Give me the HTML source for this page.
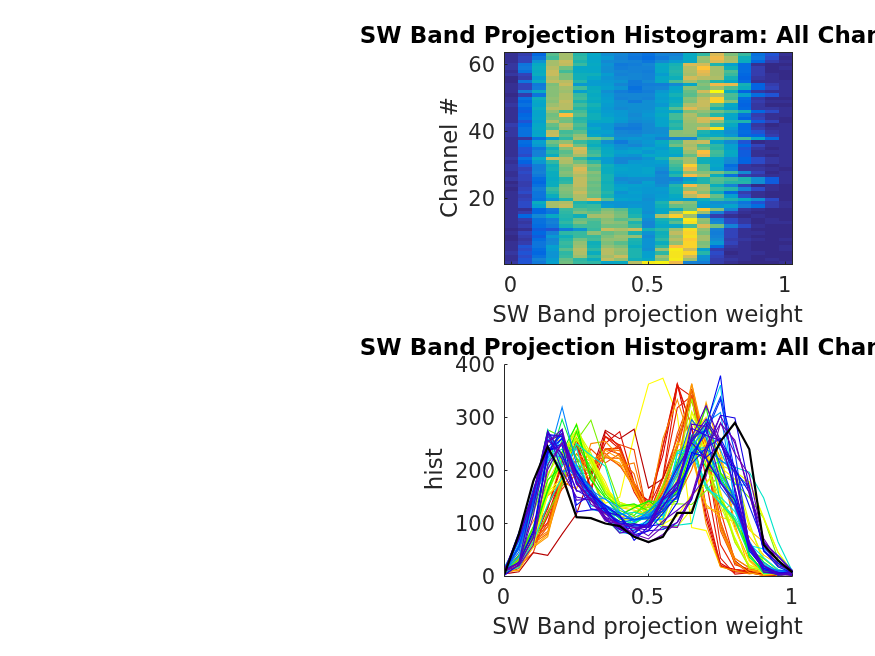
<!DOCTYPE html>
<html lang="en"><head><meta charset="utf-8"><title>SW Band Projection Histogram</title>
<style>html,body{margin:0;padding:0;background:#fff;overflow:hidden}svg{display:block}text{font-family:"DejaVu Sans","Liberation Sans",sans-serif;fill:#262626}.t{font-size:21px}.l{font-size:23px}.ti{font-size:23px;font-weight:bold;fill:#000}</style></head><body>
<svg width="875" height="656" viewBox="0 0 875 656">
<rect width="875" height="656" fill="#fff"/>
<g shape-rendering="crispEdges">
<rect x="504.50" y="261.13" width="14.01" height="3.67" fill="#3637a0"/>
<rect x="518.21" y="261.13" width="14.01" height="3.67" fill="#2053d4"/>
<rect x="531.93" y="261.13" width="14.01" height="3.67" fill="#1079da"/>
<rect x="545.64" y="261.13" width="14.01" height="3.67" fill="#06a0cd"/>
<rect x="559.36" y="261.13" width="14.01" height="3.67" fill="#71bf80"/>
<rect x="573.07" y="261.13" width="14.01" height="3.67" fill="#38b99e"/>
<rect x="586.79" y="261.13" width="14.01" height="3.67" fill="#2eb7a4"/>
<rect x="600.50" y="261.13" width="14.01" height="3.67" fill="#06a4ca"/>
<rect x="614.21" y="261.13" width="14.01" height="3.67" fill="#07a9c2"/>
<rect x="627.93" y="261.13" width="14.01" height="3.67" fill="#b7bd64"/>
<rect x="641.64" y="261.13" width="14.01" height="3.67" fill="#f5eb18"/>
<rect x="655.36" y="261.13" width="14.01" height="3.67" fill="#f6f313"/>
<rect x="669.07" y="261.13" width="14.01" height="3.67" fill="#f1b94a"/>
<rect x="682.79" y="261.13" width="14.01" height="3.67" fill="#1481d6"/>
<rect x="696.50" y="261.13" width="14.01" height="3.67" fill="#127dd8"/>
<rect x="710.21" y="261.13" width="14.01" height="3.67" fill="#353dad"/>
<rect x="723.93" y="261.13" width="14.01" height="3.67" fill="#363093"/>
<rect x="737.64" y="261.13" width="41.44" height="3.67" fill="#352a87"/>
<rect x="778.79" y="261.13" width="14.01" height="3.67" fill="#363093"/>
<rect x="504.50" y="257.77" width="14.01" height="3.67" fill="#363093"/>
<rect x="518.21" y="257.77" width="14.01" height="3.67" fill="#2053d4"/>
<rect x="531.93" y="257.77" width="14.01" height="3.67" fill="#1481d6"/>
<rect x="545.64" y="257.77" width="14.01" height="3.67" fill="#079ccf"/>
<rect x="559.36" y="257.77" width="14.01" height="3.67" fill="#65be86"/>
<rect x="573.07" y="257.77" width="14.01" height="3.67" fill="#2eb7a4"/>
<rect x="586.79" y="257.77" width="14.01" height="3.67" fill="#0aacbe"/>
<rect x="600.50" y="257.77" width="14.01" height="3.67" fill="#c0bc60"/>
<rect x="614.21" y="257.77" width="14.01" height="3.67" fill="#92bf73"/>
<rect x="627.93" y="257.77" width="14.01" height="3.67" fill="#0faeb9"/>
<rect x="641.64" y="257.77" width="14.01" height="3.67" fill="#06a7c6"/>
<rect x="655.36" y="257.77" width="14.01" height="3.67" fill="#7cbf7b"/>
<rect x="669.07" y="257.77" width="14.01" height="3.67" fill="#f5eb18"/>
<rect x="682.79" y="257.77" width="14.01" height="3.67" fill="#9cbf6f"/>
<rect x="696.50" y="257.77" width="14.01" height="3.67" fill="#108ed2"/>
<rect x="710.21" y="257.77" width="14.01" height="3.67" fill="#353dad"/>
<rect x="723.93" y="257.77" width="14.01" height="3.67" fill="#3637a0"/>
<rect x="737.64" y="257.77" width="14.01" height="3.67" fill="#363093"/>
<rect x="751.36" y="257.77" width="14.01" height="3.67" fill="#352a87"/>
<rect x="765.07" y="257.77" width="14.01" height="3.67" fill="#363093"/>
<rect x="778.79" y="257.77" width="14.01" height="3.67" fill="#352a87"/>
<rect x="504.50" y="254.40" width="14.01" height="3.67" fill="#363093"/>
<rect x="518.21" y="254.40" width="14.01" height="3.67" fill="#2c4ac7"/>
<rect x="531.93" y="254.40" width="14.01" height="3.67" fill="#0871de"/>
<rect x="545.64" y="254.40" width="14.01" height="3.67" fill="#0c93d2"/>
<rect x="559.36" y="254.40" width="14.01" height="3.67" fill="#38b99e"/>
<rect x="573.07" y="254.40" width="14.01" height="3.67" fill="#9cbf6f"/>
<rect x="586.79" y="254.40" width="14.01" height="3.67" fill="#2eb7a4"/>
<rect x="600.50" y="254.40" width="14.01" height="3.67" fill="#a5be6b"/>
<rect x="614.21" y="254.40" width="14.01" height="3.67" fill="#c8bc5d"/>
<rect x="627.93" y="254.40" width="14.01" height="3.67" fill="#1db3af"/>
<rect x="641.64" y="254.40" width="14.01" height="3.67" fill="#06a0cd"/>
<rect x="655.36" y="254.40" width="14.01" height="3.67" fill="#9cbf6f"/>
<rect x="669.07" y="254.40" width="14.01" height="3.67" fill="#f5e41d"/>
<rect x="682.79" y="254.40" width="14.01" height="3.67" fill="#d1bb59"/>
<rect x="696.50" y="254.40" width="14.01" height="3.67" fill="#0c93d2"/>
<rect x="710.21" y="254.40" width="14.01" height="3.67" fill="#3243ba"/>
<rect x="723.93" y="254.40" width="27.73" height="3.67" fill="#363093"/>
<rect x="751.36" y="254.40" width="41.44" height="3.67" fill="#352a87"/>
<rect x="504.50" y="251.04" width="14.01" height="3.67" fill="#3637a0"/>
<rect x="518.21" y="251.04" width="14.01" height="3.67" fill="#2053d4"/>
<rect x="531.93" y="251.04" width="14.01" height="3.67" fill="#0268e1"/>
<rect x="545.64" y="251.04" width="14.01" height="3.67" fill="#0c93d2"/>
<rect x="559.36" y="251.04" width="14.01" height="3.67" fill="#2eb7a4"/>
<rect x="573.07" y="251.04" width="14.01" height="3.67" fill="#aebe67"/>
<rect x="586.79" y="251.04" width="14.01" height="3.67" fill="#0aacbe"/>
<rect x="600.50" y="251.04" width="14.01" height="3.67" fill="#b7bd64"/>
<rect x="614.21" y="251.04" width="14.01" height="3.67" fill="#92bf73"/>
<rect x="627.93" y="251.04" width="14.01" height="3.67" fill="#1db3af"/>
<rect x="641.64" y="251.04" width="14.01" height="3.67" fill="#06a0cd"/>
<rect x="655.36" y="251.04" width="14.01" height="3.67" fill="#2eb7a4"/>
<rect x="669.07" y="251.04" width="14.01" height="3.67" fill="#f5e41d"/>
<rect x="682.79" y="251.04" width="14.01" height="3.67" fill="#fad32a"/>
<rect x="696.50" y="251.04" width="14.01" height="3.67" fill="#25b5a9"/>
<rect x="710.21" y="251.04" width="14.01" height="3.67" fill="#2c4ac7"/>
<rect x="723.93" y="251.04" width="14.01" height="3.67" fill="#352a87"/>
<rect x="737.64" y="251.04" width="27.73" height="3.67" fill="#363093"/>
<rect x="765.07" y="251.04" width="27.73" height="3.67" fill="#352a87"/>
<rect x="504.50" y="247.67" width="14.01" height="3.67" fill="#363093"/>
<rect x="518.21" y="247.67" width="14.01" height="3.67" fill="#2c4ac7"/>
<rect x="531.93" y="247.67" width="14.01" height="3.67" fill="#046de0"/>
<rect x="545.64" y="247.67" width="14.01" height="3.67" fill="#079ccf"/>
<rect x="559.36" y="247.67" width="14.01" height="3.67" fill="#59bd8c"/>
<rect x="573.07" y="247.67" width="14.01" height="3.67" fill="#b7bd64"/>
<rect x="586.79" y="247.67" width="14.01" height="3.67" fill="#2eb7a4"/>
<rect x="600.50" y="247.67" width="14.01" height="3.67" fill="#b7bd64"/>
<rect x="614.21" y="247.67" width="14.01" height="3.67" fill="#9cbf6f"/>
<rect x="627.93" y="247.67" width="14.01" height="3.67" fill="#1db3af"/>
<rect x="641.64" y="247.67" width="14.01" height="3.67" fill="#108ed2"/>
<rect x="655.36" y="247.67" width="14.01" height="3.67" fill="#9cbf6f"/>
<rect x="669.07" y="247.67" width="14.01" height="3.67" fill="#f5eb18"/>
<rect x="682.79" y="247.67" width="14.01" height="3.67" fill="#d1bb59"/>
<rect x="696.50" y="247.67" width="14.01" height="3.67" fill="#06a0cd"/>
<rect x="710.21" y="247.67" width="14.01" height="3.67" fill="#353dad"/>
<rect x="723.93" y="247.67" width="27.73" height="3.67" fill="#363093"/>
<rect x="751.36" y="247.67" width="27.73" height="3.67" fill="#352a87"/>
<rect x="778.79" y="247.67" width="14.01" height="3.67" fill="#363093"/>
<rect x="504.50" y="244.31" width="14.01" height="3.67" fill="#363093"/>
<rect x="518.21" y="244.31" width="14.01" height="3.67" fill="#2053d4"/>
<rect x="531.93" y="244.31" width="14.01" height="3.67" fill="#0d75dc"/>
<rect x="545.64" y="244.31" width="14.01" height="3.67" fill="#06a0cd"/>
<rect x="559.36" y="244.31" width="14.01" height="3.67" fill="#2eb7a4"/>
<rect x="573.07" y="244.31" width="14.01" height="3.67" fill="#9cbf6f"/>
<rect x="586.79" y="244.31" width="14.01" height="3.67" fill="#15b1b4"/>
<rect x="600.50" y="244.31" width="14.01" height="3.67" fill="#92bf73"/>
<rect x="614.21" y="244.31" width="14.01" height="3.67" fill="#7cbf7b"/>
<rect x="627.93" y="244.31" width="14.01" height="3.67" fill="#0aacbe"/>
<rect x="641.64" y="244.31" width="14.01" height="3.67" fill="#0c93d2"/>
<rect x="655.36" y="244.31" width="14.01" height="3.67" fill="#2eb7a4"/>
<rect x="669.07" y="244.31" width="14.01" height="3.67" fill="#fdbe3d"/>
<rect x="682.79" y="244.31" width="14.01" height="3.67" fill="#fad32a"/>
<rect x="696.50" y="244.31" width="14.01" height="3.67" fill="#87bf77"/>
<rect x="710.21" y="244.31" width="14.01" height="3.67" fill="#046de0"/>
<rect x="723.93" y="244.31" width="14.01" height="3.67" fill="#3637a0"/>
<rect x="737.64" y="244.31" width="14.01" height="3.67" fill="#363093"/>
<rect x="751.36" y="244.31" width="27.73" height="3.67" fill="#352a87"/>
<rect x="778.79" y="244.31" width="14.01" height="3.67" fill="#363093"/>
<rect x="504.50" y="240.94" width="14.01" height="3.67" fill="#363093"/>
<rect x="518.21" y="240.94" width="14.01" height="3.67" fill="#353dad"/>
<rect x="531.93" y="240.94" width="14.01" height="3.67" fill="#0d75dc"/>
<rect x="545.64" y="240.94" width="14.01" height="3.67" fill="#1389d3"/>
<rect x="559.36" y="240.94" width="14.01" height="3.67" fill="#38b99e"/>
<rect x="573.07" y="240.94" width="14.01" height="3.67" fill="#92bf73"/>
<rect x="586.79" y="240.94" width="14.01" height="3.67" fill="#0faeb9"/>
<rect x="600.50" y="240.94" width="14.01" height="3.67" fill="#7cbf7b"/>
<rect x="614.21" y="240.94" width="14.01" height="3.67" fill="#59bd8c"/>
<rect x="627.93" y="240.94" width="14.01" height="3.67" fill="#15b1b4"/>
<rect x="641.64" y="240.94" width="14.01" height="3.67" fill="#0c93d2"/>
<rect x="655.36" y="240.94" width="14.01" height="3.67" fill="#0aacbe"/>
<rect x="669.07" y="240.94" width="14.01" height="3.67" fill="#92bf73"/>
<rect x="682.79" y="240.94" width="14.01" height="3.67" fill="#fad32a"/>
<rect x="696.50" y="240.94" width="14.01" height="3.67" fill="#7cbf7b"/>
<rect x="710.21" y="240.94" width="14.01" height="3.67" fill="#0998d1"/>
<rect x="723.93" y="240.94" width="14.01" height="3.67" fill="#3243ba"/>
<rect x="737.64" y="240.94" width="14.01" height="3.67" fill="#363093"/>
<rect x="751.36" y="240.94" width="41.44" height="3.67" fill="#352a87"/>
<rect x="504.50" y="237.58" width="14.01" height="3.67" fill="#352a87"/>
<rect x="518.21" y="237.58" width="14.01" height="3.67" fill="#3637a0"/>
<rect x="531.93" y="237.58" width="14.01" height="3.67" fill="#046de0"/>
<rect x="545.64" y="237.58" width="14.01" height="3.67" fill="#1485d4"/>
<rect x="559.36" y="237.58" width="14.01" height="3.67" fill="#25b5a9"/>
<rect x="573.07" y="237.58" width="14.01" height="3.67" fill="#71bf80"/>
<rect x="586.79" y="237.58" width="14.01" height="3.67" fill="#42bb98"/>
<rect x="600.50" y="237.58" width="27.73" height="3.67" fill="#92bf73"/>
<rect x="627.93" y="237.58" width="14.01" height="3.67" fill="#1db3af"/>
<rect x="641.64" y="237.58" width="14.01" height="3.67" fill="#0c93d2"/>
<rect x="655.36" y="237.58" width="14.01" height="3.67" fill="#2eb7a4"/>
<rect x="669.07" y="237.58" width="14.01" height="3.67" fill="#b7bd64"/>
<rect x="682.79" y="237.58" width="14.01" height="3.67" fill="#fec832"/>
<rect x="696.50" y="237.58" width="14.01" height="3.67" fill="#a5be6b"/>
<rect x="710.21" y="237.58" width="14.01" height="3.67" fill="#1389d3"/>
<rect x="723.93" y="237.58" width="14.01" height="3.67" fill="#353dad"/>
<rect x="737.64" y="237.58" width="14.01" height="3.67" fill="#3637a0"/>
<rect x="751.36" y="237.58" width="14.01" height="3.67" fill="#363093"/>
<rect x="765.07" y="237.58" width="14.01" height="3.67" fill="#352a87"/>
<rect x="778.79" y="237.58" width="14.01" height="3.67" fill="#363093"/>
<rect x="504.50" y="234.21" width="14.01" height="3.67" fill="#352a87"/>
<rect x="518.21" y="234.21" width="14.01" height="3.67" fill="#353dad"/>
<rect x="531.93" y="234.21" width="14.01" height="3.67" fill="#0f5cdd"/>
<rect x="545.64" y="234.21" width="14.01" height="3.67" fill="#0998d1"/>
<rect x="559.36" y="234.21" width="14.01" height="3.67" fill="#0faeb9"/>
<rect x="573.07" y="234.21" width="27.73" height="3.67" fill="#38b99e"/>
<rect x="600.50" y="234.21" width="14.01" height="3.67" fill="#7cbf7b"/>
<rect x="614.21" y="234.21" width="14.01" height="3.67" fill="#9cbf6f"/>
<rect x="627.93" y="234.21" width="14.01" height="3.67" fill="#92bf73"/>
<rect x="641.64" y="234.21" width="14.01" height="3.67" fill="#1389d3"/>
<rect x="655.36" y="234.21" width="14.01" height="3.67" fill="#15b1b4"/>
<rect x="669.07" y="234.21" width="14.01" height="3.67" fill="#9cbf6f"/>
<rect x="682.79" y="234.21" width="14.01" height="3.67" fill="#f5de21"/>
<rect x="696.50" y="234.21" width="14.01" height="3.67" fill="#a5be6b"/>
<rect x="710.21" y="234.21" width="14.01" height="3.67" fill="#1481d6"/>
<rect x="723.93" y="234.21" width="14.01" height="3.67" fill="#3243ba"/>
<rect x="737.64" y="234.21" width="14.01" height="3.67" fill="#363093"/>
<rect x="751.36" y="234.21" width="41.44" height="3.67" fill="#352a87"/>
<rect x="504.50" y="230.85" width="14.01" height="3.67" fill="#363093"/>
<rect x="518.21" y="230.85" width="14.01" height="3.67" fill="#3243ba"/>
<rect x="531.93" y="230.85" width="14.01" height="3.67" fill="#0268e1"/>
<rect x="545.64" y="230.85" width="14.01" height="3.67" fill="#1481d6"/>
<rect x="559.36" y="230.85" width="14.01" height="3.67" fill="#2eb7a4"/>
<rect x="573.07" y="230.85" width="14.01" height="3.67" fill="#38b99e"/>
<rect x="586.79" y="230.85" width="14.01" height="3.67" fill="#92bf73"/>
<rect x="600.50" y="230.85" width="14.01" height="3.67" fill="#65be86"/>
<rect x="614.21" y="230.85" width="14.01" height="3.67" fill="#7cbf7b"/>
<rect x="627.93" y="230.85" width="14.01" height="3.67" fill="#1db3af"/>
<rect x="641.64" y="230.85" width="14.01" height="3.67" fill="#0c93d2"/>
<rect x="655.36" y="230.85" width="14.01" height="3.67" fill="#0faeb9"/>
<rect x="669.07" y="230.85" width="14.01" height="3.67" fill="#c0bc60"/>
<rect x="682.79" y="230.85" width="14.01" height="3.67" fill="#fad32a"/>
<rect x="696.50" y="230.85" width="14.01" height="3.67" fill="#7cbf7b"/>
<rect x="710.21" y="230.85" width="14.01" height="3.67" fill="#127dd8"/>
<rect x="723.93" y="230.85" width="14.01" height="3.67" fill="#3243ba"/>
<rect x="737.64" y="230.85" width="27.73" height="3.67" fill="#363093"/>
<rect x="765.07" y="230.85" width="27.73" height="3.67" fill="#352a87"/>
<rect x="504.50" y="227.48" width="14.01" height="3.67" fill="#352a87"/>
<rect x="518.21" y="227.48" width="14.01" height="3.67" fill="#363093"/>
<rect x="531.93" y="227.48" width="14.01" height="3.67" fill="#0f5cdd"/>
<rect x="545.64" y="227.48" width="14.01" height="3.67" fill="#2053d4"/>
<rect x="559.36" y="227.48" width="14.01" height="3.67" fill="#1079da"/>
<rect x="573.07" y="227.48" width="14.01" height="3.67" fill="#0c93d2"/>
<rect x="586.79" y="227.48" width="14.01" height="3.67" fill="#38b99e"/>
<rect x="600.50" y="227.48" width="14.01" height="3.67" fill="#c8bc5d"/>
<rect x="614.21" y="227.48" width="14.01" height="3.67" fill="#aebe67"/>
<rect x="627.93" y="227.48" width="14.01" height="3.67" fill="#c8bc5d"/>
<rect x="641.64" y="227.48" width="14.01" height="3.67" fill="#15b1b4"/>
<rect x="655.36" y="227.48" width="14.01" height="3.67" fill="#2eb7a4"/>
<rect x="669.07" y="227.48" width="14.01" height="3.67" fill="#9cbf6f"/>
<rect x="682.79" y="227.48" width="14.01" height="3.67" fill="#f5de21"/>
<rect x="696.50" y="227.48" width="14.01" height="3.67" fill="#92bf73"/>
<rect x="710.21" y="227.48" width="14.01" height="3.67" fill="#1481d6"/>
<rect x="723.93" y="227.48" width="14.01" height="3.67" fill="#3243ba"/>
<rect x="737.64" y="227.48" width="14.01" height="3.67" fill="#363093"/>
<rect x="751.36" y="227.48" width="41.44" height="3.67" fill="#352a87"/>
<rect x="504.50" y="224.12" width="14.01" height="3.67" fill="#363093"/>
<rect x="518.21" y="224.12" width="14.01" height="3.67" fill="#353dad"/>
<rect x="531.93" y="224.12" width="14.01" height="3.67" fill="#046de0"/>
<rect x="545.64" y="224.12" width="14.01" height="3.67" fill="#1079da"/>
<rect x="559.36" y="224.12" width="14.01" height="3.67" fill="#15b1b4"/>
<rect x="573.07" y="224.12" width="27.73" height="3.67" fill="#42bb98"/>
<rect x="600.50" y="224.12" width="27.73" height="3.67" fill="#71bf80"/>
<rect x="627.93" y="224.12" width="14.01" height="3.67" fill="#38b99e"/>
<rect x="641.64" y="224.12" width="14.01" height="3.67" fill="#1485d4"/>
<rect x="655.36" y="224.12" width="27.73" height="3.67" fill="#06a7c6"/>
<rect x="682.79" y="224.12" width="14.01" height="3.67" fill="#42bb98"/>
<rect x="696.50" y="224.12" width="14.01" height="3.67" fill="#d9ba56"/>
<rect x="710.21" y="224.12" width="14.01" height="3.67" fill="#71bf80"/>
<rect x="723.93" y="224.12" width="14.01" height="3.67" fill="#1481d6"/>
<rect x="737.64" y="224.12" width="14.01" height="3.67" fill="#2c4ac7"/>
<rect x="751.36" y="224.12" width="14.01" height="3.67" fill="#363093"/>
<rect x="765.07" y="224.12" width="27.73" height="3.67" fill="#352a87"/>
<rect x="504.50" y="220.75" width="14.01" height="3.67" fill="#363093"/>
<rect x="518.21" y="220.75" width="14.01" height="3.67" fill="#3637a0"/>
<rect x="531.93" y="220.75" width="14.01" height="3.67" fill="#0871de"/>
<rect x="545.64" y="220.75" width="14.01" height="3.67" fill="#1481d6"/>
<rect x="559.36" y="220.75" width="14.01" height="3.67" fill="#2eb7a4"/>
<rect x="573.07" y="220.75" width="14.01" height="3.67" fill="#7cbf7b"/>
<rect x="586.79" y="220.75" width="14.01" height="3.67" fill="#42bb98"/>
<rect x="600.50" y="220.75" width="14.01" height="3.67" fill="#92bf73"/>
<rect x="614.21" y="220.75" width="14.01" height="3.67" fill="#87bf77"/>
<rect x="627.93" y="220.75" width="14.01" height="3.67" fill="#1db3af"/>
<rect x="641.64" y="220.75" width="14.01" height="3.67" fill="#1485d4"/>
<rect x="655.36" y="220.75" width="14.01" height="3.67" fill="#0aacbe"/>
<rect x="669.07" y="220.75" width="14.01" height="3.67" fill="#59bd8c"/>
<rect x="682.79" y="220.75" width="14.01" height="3.67" fill="#f5de21"/>
<rect x="696.50" y="220.75" width="14.01" height="3.67" fill="#87bf77"/>
<rect x="710.21" y="220.75" width="14.01" height="3.67" fill="#1389d3"/>
<rect x="723.93" y="220.75" width="14.01" height="3.67" fill="#2c4ac7"/>
<rect x="737.64" y="220.75" width="14.01" height="3.67" fill="#3637a0"/>
<rect x="751.36" y="220.75" width="14.01" height="3.67" fill="#352a87"/>
<rect x="765.07" y="220.75" width="27.73" height="3.67" fill="#363093"/>
<rect x="504.50" y="217.39" width="14.01" height="3.67" fill="#363093"/>
<rect x="518.21" y="217.39" width="14.01" height="3.67" fill="#353dad"/>
<rect x="531.93" y="217.39" width="14.01" height="3.67" fill="#0871de"/>
<rect x="545.64" y="217.39" width="14.01" height="3.67" fill="#127dd8"/>
<rect x="559.36" y="217.39" width="14.01" height="3.67" fill="#1db3af"/>
<rect x="573.07" y="217.39" width="14.01" height="3.67" fill="#65be86"/>
<rect x="586.79" y="217.39" width="14.01" height="3.67" fill="#59bd8c"/>
<rect x="600.50" y="217.39" width="14.01" height="3.67" fill="#87bf77"/>
<rect x="614.21" y="217.39" width="14.01" height="3.67" fill="#59bd8c"/>
<rect x="627.93" y="217.39" width="14.01" height="3.67" fill="#65be86"/>
<rect x="641.64" y="217.39" width="14.01" height="3.67" fill="#108ed2"/>
<rect x="655.36" y="217.39" width="14.01" height="3.67" fill="#15b1b4"/>
<rect x="669.07" y="217.39" width="14.01" height="3.67" fill="#2eb7a4"/>
<rect x="682.79" y="217.39" width="14.01" height="3.67" fill="#f5eb18"/>
<rect x="696.50" y="217.39" width="14.01" height="3.67" fill="#92bf73"/>
<rect x="710.21" y="217.39" width="14.01" height="3.67" fill="#1481d6"/>
<rect x="723.93" y="217.39" width="14.01" height="3.67" fill="#2c4ac7"/>
<rect x="737.64" y="217.39" width="14.01" height="3.67" fill="#3637a0"/>
<rect x="751.36" y="217.39" width="14.01" height="3.67" fill="#352a87"/>
<rect x="765.07" y="217.39" width="14.01" height="3.67" fill="#363093"/>
<rect x="778.79" y="217.39" width="14.01" height="3.67" fill="#352a87"/>
<rect x="504.50" y="214.02" width="14.01" height="3.67" fill="#363093"/>
<rect x="518.21" y="214.02" width="14.01" height="3.67" fill="#0268e1"/>
<rect x="531.93" y="214.02" width="14.01" height="3.67" fill="#1389d3"/>
<rect x="545.64" y="214.02" width="14.01" height="3.67" fill="#07a9c2"/>
<rect x="559.36" y="214.02" width="14.01" height="3.67" fill="#25b5a9"/>
<rect x="573.07" y="214.02" width="14.01" height="3.67" fill="#0faeb9"/>
<rect x="586.79" y="214.02" width="27.73" height="3.67" fill="#a5be6b"/>
<rect x="614.21" y="214.02" width="14.01" height="3.67" fill="#7cbf7b"/>
<rect x="627.93" y="214.02" width="14.01" height="3.67" fill="#1db3af"/>
<rect x="641.64" y="214.02" width="14.01" height="3.67" fill="#0998d1"/>
<rect x="655.36" y="214.02" width="14.01" height="3.67" fill="#aebe67"/>
<rect x="669.07" y="214.02" width="14.01" height="3.67" fill="#fcce2e"/>
<rect x="682.79" y="214.02" width="14.01" height="3.67" fill="#9cbf6f"/>
<rect x="696.50" y="214.02" width="14.01" height="3.67" fill="#1485d4"/>
<rect x="710.21" y="214.02" width="14.01" height="3.67" fill="#353dad"/>
<rect x="723.93" y="214.02" width="14.01" height="3.67" fill="#363093"/>
<rect x="737.64" y="214.02" width="14.01" height="3.67" fill="#352a87"/>
<rect x="751.36" y="214.02" width="14.01" height="3.67" fill="#363093"/>
<rect x="765.07" y="214.02" width="27.73" height="3.67" fill="#352a87"/>
<rect x="504.50" y="210.66" width="14.01" height="3.67" fill="#363093"/>
<rect x="518.21" y="210.66" width="14.01" height="3.67" fill="#353dad"/>
<rect x="531.93" y="210.66" width="14.01" height="3.67" fill="#0268e1"/>
<rect x="545.64" y="210.66" width="14.01" height="3.67" fill="#0d75dc"/>
<rect x="559.36" y="210.66" width="14.01" height="3.67" fill="#2eb7a4"/>
<rect x="573.07" y="210.66" width="14.01" height="3.67" fill="#7cbf7b"/>
<rect x="586.79" y="210.66" width="14.01" height="3.67" fill="#65be86"/>
<rect x="600.50" y="210.66" width="14.01" height="3.67" fill="#92bf73"/>
<rect x="614.21" y="210.66" width="14.01" height="3.67" fill="#71bf80"/>
<rect x="627.93" y="210.66" width="14.01" height="3.67" fill="#0faeb9"/>
<rect x="641.64" y="210.66" width="14.01" height="3.67" fill="#108ed2"/>
<rect x="655.36" y="210.66" width="14.01" height="3.67" fill="#06a7c6"/>
<rect x="669.07" y="210.66" width="14.01" height="3.67" fill="#9cbf6f"/>
<rect x="682.79" y="210.66" width="14.01" height="3.67" fill="#f5eb18"/>
<rect x="696.50" y="210.66" width="14.01" height="3.67" fill="#9cbf6f"/>
<rect x="710.21" y="210.66" width="14.01" height="3.67" fill="#1481d6"/>
<rect x="723.93" y="210.66" width="14.01" height="3.67" fill="#3243ba"/>
<rect x="737.64" y="210.66" width="14.01" height="3.67" fill="#363093"/>
<rect x="751.36" y="210.66" width="41.44" height="3.67" fill="#352a87"/>
<rect x="504.50" y="207.29" width="27.73" height="3.67" fill="#363093"/>
<rect x="531.93" y="207.29" width="14.01" height="3.67" fill="#0268e1"/>
<rect x="545.64" y="207.29" width="14.01" height="3.67" fill="#1079da"/>
<rect x="559.36" y="207.29" width="14.01" height="3.67" fill="#38b99e"/>
<rect x="573.07" y="207.29" width="14.01" height="3.67" fill="#59bd8c"/>
<rect x="586.79" y="207.29" width="14.01" height="3.67" fill="#42bb98"/>
<rect x="600.50" y="207.29" width="14.01" height="3.67" fill="#7cbf7b"/>
<rect x="614.21" y="207.29" width="14.01" height="3.67" fill="#59bd8c"/>
<rect x="627.93" y="207.29" width="14.01" height="3.67" fill="#0faeb9"/>
<rect x="641.64" y="207.29" width="14.01" height="3.67" fill="#0c93d2"/>
<rect x="655.36" y="207.29" width="14.01" height="3.67" fill="#06a7c6"/>
<rect x="669.07" y="207.29" width="14.01" height="3.67" fill="#0aacbe"/>
<rect x="682.79" y="207.29" width="14.01" height="3.67" fill="#65be86"/>
<rect x="696.50" y="207.29" width="14.01" height="3.67" fill="#fec832"/>
<rect x="710.21" y="207.29" width="14.01" height="3.67" fill="#87bf77"/>
<rect x="723.93" y="207.29" width="14.01" height="3.67" fill="#1485d4"/>
<rect x="737.64" y="207.29" width="14.01" height="3.67" fill="#3637a0"/>
<rect x="751.36" y="207.29" width="14.01" height="3.67" fill="#363093"/>
<rect x="765.07" y="207.29" width="27.73" height="3.67" fill="#352a87"/>
<rect x="504.50" y="203.93" width="14.01" height="3.67" fill="#363093"/>
<rect x="518.21" y="203.93" width="14.01" height="3.67" fill="#2c4ac7"/>
<rect x="531.93" y="203.93" width="14.01" height="3.67" fill="#06a0cd"/>
<rect x="545.64" y="203.93" width="14.01" height="3.67" fill="#a5be6b"/>
<rect x="559.36" y="203.93" width="14.01" height="3.67" fill="#c0bc60"/>
<rect x="573.07" y="203.93" width="14.01" height="3.67" fill="#2eb7a4"/>
<rect x="586.79" y="203.93" width="14.01" height="3.67" fill="#38b99e"/>
<rect x="600.50" y="203.93" width="14.01" height="3.67" fill="#079ccf"/>
<rect x="614.21" y="203.93" width="14.01" height="3.67" fill="#0c93d2"/>
<rect x="627.93" y="203.93" width="14.01" height="3.67" fill="#0998d1"/>
<rect x="641.64" y="203.93" width="14.01" height="3.67" fill="#0c93d2"/>
<rect x="655.36" y="203.93" width="14.01" height="3.67" fill="#0faeb9"/>
<rect x="669.07" y="203.93" width="14.01" height="3.67" fill="#65be86"/>
<rect x="682.79" y="203.93" width="14.01" height="3.67" fill="#71bf80"/>
<rect x="696.50" y="203.93" width="14.01" height="3.67" fill="#079ccf"/>
<rect x="710.21" y="203.93" width="14.01" height="3.67" fill="#0998d1"/>
<rect x="723.93" y="203.93" width="14.01" height="3.67" fill="#06a4ca"/>
<rect x="737.64" y="203.93" width="14.01" height="3.67" fill="#127dd8"/>
<rect x="751.36" y="203.93" width="14.01" height="3.67" fill="#046de0"/>
<rect x="765.07" y="203.93" width="14.01" height="3.67" fill="#353dad"/>
<rect x="778.79" y="203.93" width="14.01" height="3.67" fill="#363093"/>
<rect x="504.50" y="200.56" width="14.01" height="3.67" fill="#363093"/>
<rect x="518.21" y="200.56" width="14.01" height="3.67" fill="#2c4ac7"/>
<rect x="531.93" y="200.56" width="14.01" height="3.67" fill="#0aacbe"/>
<rect x="545.64" y="200.56" width="14.01" height="3.67" fill="#a5be6b"/>
<rect x="559.36" y="200.56" width="14.01" height="3.67" fill="#aebe67"/>
<rect x="573.07" y="200.56" width="14.01" height="3.67" fill="#1db3af"/>
<rect x="586.79" y="200.56" width="14.01" height="3.67" fill="#0aacbe"/>
<rect x="600.50" y="200.56" width="55.16" height="3.67" fill="#0c93d2"/>
<rect x="655.36" y="200.56" width="14.01" height="3.67" fill="#1db3af"/>
<rect x="669.07" y="200.56" width="14.01" height="3.67" fill="#a5be6b"/>
<rect x="682.79" y="200.56" width="14.01" height="3.67" fill="#87bf77"/>
<rect x="696.50" y="200.56" width="14.01" height="3.67" fill="#06a0cd"/>
<rect x="710.21" y="200.56" width="14.01" height="3.67" fill="#108ed2"/>
<rect x="723.93" y="200.56" width="14.01" height="3.67" fill="#1389d3"/>
<rect x="737.64" y="200.56" width="14.01" height="3.67" fill="#0d75dc"/>
<rect x="751.36" y="200.56" width="14.01" height="3.67" fill="#2053d4"/>
<rect x="765.07" y="200.56" width="14.01" height="3.67" fill="#353dad"/>
<rect x="778.79" y="200.56" width="14.01" height="3.67" fill="#363093"/>
<rect x="504.50" y="197.20" width="14.01" height="3.67" fill="#363093"/>
<rect x="518.21" y="197.20" width="14.01" height="3.67" fill="#3243ba"/>
<rect x="531.93" y="197.20" width="14.01" height="3.67" fill="#0871de"/>
<rect x="545.64" y="197.20" width="14.01" height="3.67" fill="#0c93d2"/>
<rect x="559.36" y="197.20" width="14.01" height="3.67" fill="#1db3af"/>
<rect x="573.07" y="197.20" width="14.01" height="3.67" fill="#aebe67"/>
<rect x="586.79" y="197.20" width="14.01" height="3.67" fill="#e1b952"/>
<rect x="600.50" y="197.20" width="14.01" height="3.67" fill="#59bd8c"/>
<rect x="614.21" y="197.20" width="14.01" height="3.67" fill="#06a4ca"/>
<rect x="627.93" y="197.20" width="14.01" height="3.67" fill="#06a0cd"/>
<rect x="641.64" y="197.20" width="14.01" height="3.67" fill="#108ed2"/>
<rect x="655.36" y="197.20" width="14.01" height="3.67" fill="#06a0cd"/>
<rect x="669.07" y="197.20" width="14.01" height="3.67" fill="#06a4ca"/>
<rect x="682.79" y="197.20" width="14.01" height="3.67" fill="#06a0cd"/>
<rect x="696.50" y="197.20" width="14.01" height="3.67" fill="#0faeb9"/>
<rect x="710.21" y="197.20" width="14.01" height="3.67" fill="#38b99e"/>
<rect x="723.93" y="197.20" width="14.01" height="3.67" fill="#1db3af"/>
<rect x="737.64" y="197.20" width="14.01" height="3.67" fill="#07a9c2"/>
<rect x="751.36" y="197.20" width="14.01" height="3.67" fill="#108ed2"/>
<rect x="765.07" y="197.20" width="14.01" height="3.67" fill="#2c4ac7"/>
<rect x="778.79" y="197.20" width="14.01" height="3.67" fill="#352a87"/>
<rect x="504.50" y="193.83" width="14.01" height="3.67" fill="#363093"/>
<rect x="518.21" y="193.83" width="14.01" height="3.67" fill="#353dad"/>
<rect x="531.93" y="193.83" width="14.01" height="3.67" fill="#0d75dc"/>
<rect x="545.64" y="193.83" width="14.01" height="3.67" fill="#0aacbe"/>
<rect x="559.36" y="193.83" width="14.01" height="3.67" fill="#71bf80"/>
<rect x="573.07" y="193.83" width="14.01" height="3.67" fill="#aebe67"/>
<rect x="586.79" y="193.83" width="14.01" height="3.67" fill="#65be86"/>
<rect x="600.50" y="193.83" width="14.01" height="3.67" fill="#15b1b4"/>
<rect x="614.21" y="193.83" width="27.73" height="3.67" fill="#079ccf"/>
<rect x="641.64" y="193.83" width="14.01" height="3.67" fill="#0c93d2"/>
<rect x="655.36" y="193.83" width="14.01" height="3.67" fill="#079ccf"/>
<rect x="669.07" y="193.83" width="14.01" height="3.67" fill="#07a9c2"/>
<rect x="682.79" y="193.83" width="14.01" height="3.67" fill="#b7bd64"/>
<rect x="696.50" y="193.83" width="14.01" height="3.67" fill="#e9b94e"/>
<rect x="710.21" y="193.83" width="14.01" height="3.67" fill="#65be86"/>
<rect x="723.93" y="193.83" width="14.01" height="3.67" fill="#06a0cd"/>
<rect x="737.64" y="193.83" width="14.01" height="3.67" fill="#2c4ac7"/>
<rect x="751.36" y="193.83" width="14.01" height="3.67" fill="#363093"/>
<rect x="765.07" y="193.83" width="27.73" height="3.67" fill="#352a87"/>
<rect x="504.50" y="190.47" width="14.01" height="3.67" fill="#363093"/>
<rect x="518.21" y="190.47" width="14.01" height="3.67" fill="#2c4ac7"/>
<rect x="531.93" y="190.47" width="14.01" height="3.67" fill="#0d75dc"/>
<rect x="545.64" y="190.47" width="14.01" height="3.67" fill="#25b5a9"/>
<rect x="559.36" y="190.47" width="14.01" height="3.67" fill="#7cbf7b"/>
<rect x="573.07" y="190.47" width="14.01" height="3.67" fill="#c8bc5d"/>
<rect x="586.79" y="190.47" width="14.01" height="3.67" fill="#71bf80"/>
<rect x="600.50" y="190.47" width="14.01" height="3.67" fill="#25b5a9"/>
<rect x="614.21" y="190.47" width="14.01" height="3.67" fill="#0c93d2"/>
<rect x="627.93" y="190.47" width="14.01" height="3.67" fill="#06a0cd"/>
<rect x="641.64" y="190.47" width="27.73" height="3.67" fill="#0998d1"/>
<rect x="669.07" y="190.47" width="14.01" height="3.67" fill="#15b1b4"/>
<rect x="682.79" y="190.47" width="14.01" height="3.67" fill="#e9b94e"/>
<rect x="696.50" y="190.47" width="14.01" height="3.67" fill="#87bf77"/>
<rect x="710.21" y="190.47" width="14.01" height="3.67" fill="#0aacbe"/>
<rect x="723.93" y="190.47" width="14.01" height="3.67" fill="#046de0"/>
<rect x="737.64" y="190.47" width="14.01" height="3.67" fill="#353dad"/>
<rect x="751.36" y="190.47" width="14.01" height="3.67" fill="#363093"/>
<rect x="765.07" y="190.47" width="27.73" height="3.67" fill="#352a87"/>
<rect x="504.50" y="187.10" width="14.01" height="3.67" fill="#352a87"/>
<rect x="518.21" y="187.10" width="14.01" height="3.67" fill="#3243ba"/>
<rect x="531.93" y="187.10" width="14.01" height="3.67" fill="#127dd8"/>
<rect x="545.64" y="187.10" width="14.01" height="3.67" fill="#38b99e"/>
<rect x="559.36" y="187.10" width="14.01" height="3.67" fill="#87bf77"/>
<rect x="573.07" y="187.10" width="14.01" height="3.67" fill="#aebe67"/>
<rect x="586.79" y="187.10" width="14.01" height="3.67" fill="#65be86"/>
<rect x="600.50" y="187.10" width="14.01" height="3.67" fill="#15b1b4"/>
<rect x="614.21" y="187.10" width="14.01" height="3.67" fill="#06a4ca"/>
<rect x="627.93" y="187.10" width="14.01" height="3.67" fill="#079ccf"/>
<rect x="641.64" y="187.10" width="14.01" height="3.67" fill="#0998d1"/>
<rect x="655.36" y="187.10" width="14.01" height="3.67" fill="#079ccf"/>
<rect x="669.07" y="187.10" width="14.01" height="3.67" fill="#15b1b4"/>
<rect x="682.79" y="187.10" width="14.01" height="3.67" fill="#92bf73"/>
<rect x="696.50" y="187.10" width="14.01" height="3.67" fill="#a5be6b"/>
<rect x="710.21" y="187.10" width="14.01" height="3.67" fill="#38b99e"/>
<rect x="723.93" y="187.10" width="14.01" height="3.67" fill="#25b5a9"/>
<rect x="737.64" y="187.10" width="14.01" height="3.67" fill="#1481d6"/>
<rect x="751.36" y="187.10" width="14.01" height="3.67" fill="#2c4ac7"/>
<rect x="765.07" y="187.10" width="14.01" height="3.67" fill="#363093"/>
<rect x="778.79" y="187.10" width="14.01" height="3.67" fill="#352a87"/>
<rect x="504.50" y="183.74" width="14.01" height="3.67" fill="#363093"/>
<rect x="518.21" y="183.74" width="14.01" height="3.67" fill="#353dad"/>
<rect x="531.93" y="183.74" width="14.01" height="3.67" fill="#0871de"/>
<rect x="545.64" y="183.74" width="14.01" height="3.67" fill="#0aacbe"/>
<rect x="559.36" y="183.74" width="14.01" height="3.67" fill="#7cbf7b"/>
<rect x="573.07" y="183.74" width="14.01" height="3.67" fill="#c0bc60"/>
<rect x="586.79" y="183.74" width="14.01" height="3.67" fill="#71bf80"/>
<rect x="600.50" y="183.74" width="14.01" height="3.67" fill="#15b1b4"/>
<rect x="614.21" y="183.74" width="27.73" height="3.67" fill="#06a0cd"/>
<rect x="641.64" y="183.74" width="14.01" height="3.67" fill="#079ccf"/>
<rect x="655.36" y="183.74" width="14.01" height="3.67" fill="#108ed2"/>
<rect x="669.07" y="183.74" width="14.01" height="3.67" fill="#25b5a9"/>
<rect x="682.79" y="183.74" width="14.01" height="3.67" fill="#f8bb44"/>
<rect x="696.50" y="183.74" width="14.01" height="3.67" fill="#9cbf6f"/>
<rect x="710.21" y="183.74" width="14.01" height="3.67" fill="#0aacbe"/>
<rect x="723.93" y="183.74" width="14.01" height="3.67" fill="#1481d6"/>
<rect x="737.64" y="183.74" width="14.01" height="3.67" fill="#3243ba"/>
<rect x="751.36" y="183.74" width="14.01" height="3.67" fill="#352a87"/>
<rect x="765.07" y="183.74" width="14.01" height="3.67" fill="#363093"/>
<rect x="778.79" y="183.74" width="14.01" height="3.67" fill="#352a87"/>
<rect x="504.50" y="180.37" width="14.01" height="3.67" fill="#352a87"/>
<rect x="518.21" y="180.37" width="14.01" height="3.67" fill="#353dad"/>
<rect x="531.93" y="180.37" width="14.01" height="3.67" fill="#0268e1"/>
<rect x="545.64" y="180.37" width="14.01" height="3.67" fill="#0aacbe"/>
<rect x="559.36" y="180.37" width="14.01" height="3.67" fill="#2eb7a4"/>
<rect x="573.07" y="180.37" width="14.01" height="3.67" fill="#c0bc60"/>
<rect x="586.79" y="180.37" width="14.01" height="3.67" fill="#65be86"/>
<rect x="600.50" y="180.37" width="14.01" height="3.67" fill="#0faeb9"/>
<rect x="614.21" y="180.37" width="14.01" height="3.67" fill="#0c93d2"/>
<rect x="627.93" y="180.37" width="14.01" height="3.67" fill="#1389d3"/>
<rect x="641.64" y="180.37" width="14.01" height="3.67" fill="#06a0cd"/>
<rect x="655.36" y="180.37" width="14.01" height="3.67" fill="#1485d4"/>
<rect x="669.07" y="180.37" width="14.01" height="3.67" fill="#0c93d2"/>
<rect x="682.79" y="180.37" width="14.01" height="3.67" fill="#0aacbe"/>
<rect x="696.50" y="180.37" width="14.01" height="3.67" fill="#1db3af"/>
<rect x="710.21" y="180.37" width="14.01" height="3.67" fill="#4dbc92"/>
<rect x="723.93" y="180.37" width="27.73" height="3.67" fill="#25b5a9"/>
<rect x="751.36" y="180.37" width="14.01" height="3.67" fill="#108ed2"/>
<rect x="765.07" y="180.37" width="14.01" height="3.67" fill="#0f5cdd"/>
<rect x="778.79" y="180.37" width="14.01" height="3.67" fill="#363093"/>
<rect x="504.50" y="177.01" width="14.01" height="3.67" fill="#3637a0"/>
<rect x="518.21" y="177.01" width="14.01" height="3.67" fill="#3243ba"/>
<rect x="531.93" y="177.01" width="14.01" height="3.67" fill="#046de0"/>
<rect x="545.64" y="177.01" width="14.01" height="3.67" fill="#07a9c2"/>
<rect x="559.36" y="177.01" width="14.01" height="3.67" fill="#25b5a9"/>
<rect x="573.07" y="177.01" width="14.01" height="3.67" fill="#c0bc60"/>
<rect x="586.79" y="177.01" width="14.01" height="3.67" fill="#7cbf7b"/>
<rect x="600.50" y="177.01" width="14.01" height="3.67" fill="#15b1b4"/>
<rect x="614.21" y="177.01" width="14.01" height="3.67" fill="#1389d3"/>
<rect x="627.93" y="177.01" width="27.73" height="3.67" fill="#108ed2"/>
<rect x="655.36" y="177.01" width="14.01" height="3.67" fill="#1485d4"/>
<rect x="669.07" y="177.01" width="14.01" height="3.67" fill="#1481d6"/>
<rect x="682.79" y="177.01" width="14.01" height="3.67" fill="#079ccf"/>
<rect x="696.50" y="177.01" width="14.01" height="3.67" fill="#1db3af"/>
<rect x="710.21" y="177.01" width="14.01" height="3.67" fill="#59bd8c"/>
<rect x="723.93" y="177.01" width="14.01" height="3.67" fill="#42bb98"/>
<rect x="737.64" y="177.01" width="14.01" height="3.67" fill="#1db3af"/>
<rect x="751.36" y="177.01" width="14.01" height="3.67" fill="#108ed2"/>
<rect x="765.07" y="177.01" width="14.01" height="3.67" fill="#0f5cdd"/>
<rect x="778.79" y="177.01" width="14.01" height="3.67" fill="#363093"/>
<rect x="504.50" y="173.64" width="14.01" height="3.67" fill="#363093"/>
<rect x="518.21" y="173.64" width="14.01" height="3.67" fill="#3243ba"/>
<rect x="531.93" y="173.64" width="14.01" height="3.67" fill="#1079da"/>
<rect x="545.64" y="173.64" width="14.01" height="3.67" fill="#0aacbe"/>
<rect x="559.36" y="173.64" width="14.01" height="3.67" fill="#7cbf7b"/>
<rect x="573.07" y="173.64" width="14.01" height="3.67" fill="#aebe67"/>
<rect x="586.79" y="173.64" width="14.01" height="3.67" fill="#71bf80"/>
<rect x="600.50" y="173.64" width="14.01" height="3.67" fill="#15b1b4"/>
<rect x="614.21" y="173.64" width="14.01" height="3.67" fill="#079ccf"/>
<rect x="627.93" y="173.64" width="27.73" height="3.67" fill="#06a0cd"/>
<rect x="655.36" y="173.64" width="14.01" height="3.67" fill="#1389d3"/>
<rect x="669.07" y="173.64" width="14.01" height="3.67" fill="#25b5a9"/>
<rect x="682.79" y="173.64" width="14.01" height="3.67" fill="#f8bb44"/>
<rect x="696.50" y="173.64" width="14.01" height="3.67" fill="#aebe67"/>
<rect x="710.21" y="173.64" width="14.01" height="3.67" fill="#0aacbe"/>
<rect x="723.93" y="173.64" width="14.01" height="3.67" fill="#0871de"/>
<rect x="737.64" y="173.64" width="14.01" height="3.67" fill="#353dad"/>
<rect x="751.36" y="173.64" width="14.01" height="3.67" fill="#3637a0"/>
<rect x="765.07" y="173.64" width="27.73" height="3.67" fill="#363093"/>
<rect x="504.50" y="170.28" width="14.01" height="3.67" fill="#363093"/>
<rect x="518.21" y="170.28" width="14.01" height="3.67" fill="#2c4ac7"/>
<rect x="531.93" y="170.28" width="14.01" height="3.67" fill="#1481d6"/>
<rect x="545.64" y="170.28" width="14.01" height="3.67" fill="#0aacbe"/>
<rect x="559.36" y="170.28" width="14.01" height="3.67" fill="#87bf77"/>
<rect x="573.07" y="170.28" width="14.01" height="3.67" fill="#c8bc5d"/>
<rect x="586.79" y="170.28" width="14.01" height="3.67" fill="#87bf77"/>
<rect x="600.50" y="170.28" width="14.01" height="3.67" fill="#0aacbe"/>
<rect x="614.21" y="170.28" width="27.73" height="3.67" fill="#06a0cd"/>
<rect x="641.64" y="170.28" width="14.01" height="3.67" fill="#06a4ca"/>
<rect x="655.36" y="170.28" width="14.01" height="3.67" fill="#1481d6"/>
<rect x="669.07" y="170.28" width="14.01" height="3.67" fill="#0aacbe"/>
<rect x="682.79" y="170.28" width="14.01" height="3.67" fill="#92bf73"/>
<rect x="696.50" y="170.28" width="14.01" height="3.67" fill="#87bf77"/>
<rect x="710.21" y="170.28" width="14.01" height="3.67" fill="#7cbf7b"/>
<rect x="723.93" y="170.28" width="14.01" height="3.67" fill="#42bb98"/>
<rect x="737.64" y="170.28" width="14.01" height="3.67" fill="#1389d3"/>
<rect x="751.36" y="170.28" width="14.01" height="3.67" fill="#3243ba"/>
<rect x="765.07" y="170.28" width="14.01" height="3.67" fill="#352a87"/>
<rect x="778.79" y="170.28" width="14.01" height="3.67" fill="#363093"/>
<rect x="504.50" y="166.91" width="14.01" height="3.67" fill="#3637a0"/>
<rect x="518.21" y="166.91" width="14.01" height="3.67" fill="#3243ba"/>
<rect x="531.93" y="166.91" width="14.01" height="3.67" fill="#127dd8"/>
<rect x="545.64" y="166.91" width="14.01" height="3.67" fill="#15b1b4"/>
<rect x="559.36" y="166.91" width="14.01" height="3.67" fill="#71bf80"/>
<rect x="573.07" y="166.91" width="14.01" height="3.67" fill="#d9ba56"/>
<rect x="586.79" y="166.91" width="14.01" height="3.67" fill="#59bd8c"/>
<rect x="600.50" y="166.91" width="14.01" height="3.67" fill="#0aacbe"/>
<rect x="614.21" y="166.91" width="14.01" height="3.67" fill="#06a4ca"/>
<rect x="627.93" y="166.91" width="14.01" height="3.67" fill="#06a0cd"/>
<rect x="641.64" y="166.91" width="14.01" height="3.67" fill="#06a4ca"/>
<rect x="655.36" y="166.91" width="14.01" height="3.67" fill="#108ed2"/>
<rect x="669.07" y="166.91" width="14.01" height="3.67" fill="#2eb7a4"/>
<rect x="682.79" y="166.91" width="14.01" height="3.67" fill="#e9b94e"/>
<rect x="696.50" y="166.91" width="14.01" height="3.67" fill="#59bd8c"/>
<rect x="710.21" y="166.91" width="14.01" height="3.67" fill="#06a0cd"/>
<rect x="723.93" y="166.91" width="14.01" height="3.67" fill="#0d75dc"/>
<rect x="737.64" y="166.91" width="27.73" height="3.67" fill="#3637a0"/>
<rect x="765.07" y="166.91" width="14.01" height="3.67" fill="#363093"/>
<rect x="778.79" y="166.91" width="14.01" height="3.67" fill="#352a87"/>
<rect x="504.50" y="163.55" width="14.01" height="3.67" fill="#3637a0"/>
<rect x="518.21" y="163.55" width="14.01" height="3.67" fill="#2053d4"/>
<rect x="531.93" y="163.55" width="14.01" height="3.67" fill="#127dd8"/>
<rect x="545.64" y="163.55" width="14.01" height="3.67" fill="#0faeb9"/>
<rect x="559.36" y="163.55" width="14.01" height="3.67" fill="#87bf77"/>
<rect x="573.07" y="163.55" width="14.01" height="3.67" fill="#aebe67"/>
<rect x="586.79" y="163.55" width="14.01" height="3.67" fill="#71bf80"/>
<rect x="600.50" y="163.55" width="14.01" height="3.67" fill="#0faeb9"/>
<rect x="614.21" y="163.55" width="27.73" height="3.67" fill="#06a0cd"/>
<rect x="641.64" y="163.55" width="14.01" height="3.67" fill="#079ccf"/>
<rect x="655.36" y="163.55" width="14.01" height="3.67" fill="#0998d1"/>
<rect x="669.07" y="163.55" width="14.01" height="3.67" fill="#42bb98"/>
<rect x="682.79" y="163.55" width="14.01" height="3.67" fill="#fcce2e"/>
<rect x="696.50" y="163.55" width="14.01" height="3.67" fill="#59bd8c"/>
<rect x="710.21" y="163.55" width="14.01" height="3.67" fill="#06a7c6"/>
<rect x="723.93" y="163.55" width="14.01" height="3.67" fill="#046de0"/>
<rect x="737.64" y="163.55" width="14.01" height="3.67" fill="#3637a0"/>
<rect x="751.36" y="163.55" width="14.01" height="3.67" fill="#363093"/>
<rect x="765.07" y="163.55" width="14.01" height="3.67" fill="#352a87"/>
<rect x="778.79" y="163.55" width="14.01" height="3.67" fill="#363093"/>
<rect x="504.50" y="160.18" width="14.01" height="3.67" fill="#363093"/>
<rect x="518.21" y="160.18" width="14.01" height="3.67" fill="#0363e1"/>
<rect x="531.93" y="160.18" width="14.01" height="3.67" fill="#0998d1"/>
<rect x="545.64" y="160.18" width="14.01" height="3.67" fill="#2eb7a4"/>
<rect x="559.36" y="160.18" width="14.01" height="3.67" fill="#aebe67"/>
<rect x="573.07" y="160.18" width="14.01" height="3.67" fill="#71bf80"/>
<rect x="586.79" y="160.18" width="14.01" height="3.67" fill="#2eb7a4"/>
<rect x="600.50" y="160.18" width="14.01" height="3.67" fill="#079ccf"/>
<rect x="614.21" y="160.18" width="14.01" height="3.67" fill="#1485d4"/>
<rect x="627.93" y="160.18" width="14.01" height="3.67" fill="#0998d1"/>
<rect x="641.64" y="160.18" width="14.01" height="3.67" fill="#079ccf"/>
<rect x="655.36" y="160.18" width="14.01" height="3.67" fill="#06a0cd"/>
<rect x="669.07" y="160.18" width="14.01" height="3.67" fill="#59bd8c"/>
<rect x="682.79" y="160.18" width="14.01" height="3.67" fill="#a5be6b"/>
<rect x="696.50" y="160.18" width="14.01" height="3.67" fill="#0faeb9"/>
<rect x="710.21" y="160.18" width="14.01" height="3.67" fill="#06a4ca"/>
<rect x="723.93" y="160.18" width="14.01" height="3.67" fill="#1389d3"/>
<rect x="737.64" y="160.18" width="14.01" height="3.67" fill="#0363e1"/>
<rect x="751.36" y="160.18" width="14.01" height="3.67" fill="#2c4ac7"/>
<rect x="765.07" y="160.18" width="14.01" height="3.67" fill="#3637a0"/>
<rect x="778.79" y="160.18" width="14.01" height="3.67" fill="#363093"/>
<rect x="504.50" y="156.82" width="14.01" height="3.67" fill="#3637a0"/>
<rect x="518.21" y="156.82" width="14.01" height="3.67" fill="#0871de"/>
<rect x="531.93" y="156.82" width="14.01" height="3.67" fill="#07a9c2"/>
<rect x="545.64" y="156.82" width="14.01" height="3.67" fill="#c8bc5d"/>
<rect x="559.36" y="156.82" width="14.01" height="3.67" fill="#b7bd64"/>
<rect x="573.07" y="156.82" width="14.01" height="3.67" fill="#38b99e"/>
<rect x="586.79" y="156.82" width="14.01" height="3.67" fill="#06a4ca"/>
<rect x="600.50" y="156.82" width="14.01" height="3.67" fill="#079ccf"/>
<rect x="614.21" y="156.82" width="27.73" height="3.67" fill="#1485d4"/>
<rect x="641.64" y="156.82" width="14.01" height="3.67" fill="#0c93d2"/>
<rect x="655.36" y="156.82" width="14.01" height="3.67" fill="#15b1b4"/>
<rect x="669.07" y="156.82" width="14.01" height="3.67" fill="#87bf77"/>
<rect x="682.79" y="156.82" width="14.01" height="3.67" fill="#a5be6b"/>
<rect x="696.50" y="156.82" width="14.01" height="3.67" fill="#15b1b4"/>
<rect x="710.21" y="156.82" width="14.01" height="3.67" fill="#06a7c6"/>
<rect x="723.93" y="156.82" width="14.01" height="3.67" fill="#108ed2"/>
<rect x="737.64" y="156.82" width="14.01" height="3.67" fill="#0363e1"/>
<rect x="751.36" y="156.82" width="14.01" height="3.67" fill="#2c4ac7"/>
<rect x="765.07" y="156.82" width="14.01" height="3.67" fill="#3637a0"/>
<rect x="778.79" y="156.82" width="14.01" height="3.67" fill="#363093"/>
<rect x="504.50" y="153.45" width="14.01" height="3.67" fill="#363093"/>
<rect x="518.21" y="153.45" width="14.01" height="3.67" fill="#2c4ac7"/>
<rect x="531.93" y="153.45" width="14.01" height="3.67" fill="#1481d6"/>
<rect x="545.64" y="153.45" width="14.01" height="3.67" fill="#0aacbe"/>
<rect x="559.36" y="153.45" width="14.01" height="3.67" fill="#71bf80"/>
<rect x="573.07" y="153.45" width="14.01" height="3.67" fill="#a5be6b"/>
<rect x="586.79" y="153.45" width="14.01" height="3.67" fill="#4dbc92"/>
<rect x="600.50" y="153.45" width="14.01" height="3.67" fill="#0aacbe"/>
<rect x="614.21" y="153.45" width="14.01" height="3.67" fill="#0998d1"/>
<rect x="627.93" y="153.45" width="14.01" height="3.67" fill="#0c93d2"/>
<rect x="641.64" y="153.45" width="14.01" height="3.67" fill="#06a7c6"/>
<rect x="655.36" y="153.45" width="27.73" height="3.67" fill="#06a4ca"/>
<rect x="682.79" y="153.45" width="14.01" height="3.67" fill="#65be86"/>
<rect x="696.50" y="153.45" width="14.01" height="3.67" fill="#e1b952"/>
<rect x="710.21" y="153.45" width="14.01" height="3.67" fill="#38b99e"/>
<rect x="723.93" y="153.45" width="14.01" height="3.67" fill="#06a7c6"/>
<rect x="737.64" y="153.45" width="14.01" height="3.67" fill="#0f5cdd"/>
<rect x="751.36" y="153.45" width="14.01" height="3.67" fill="#363093"/>
<rect x="765.07" y="153.45" width="14.01" height="3.67" fill="#352a87"/>
<rect x="778.79" y="153.45" width="14.01" height="3.67" fill="#363093"/>
<rect x="504.50" y="150.09" width="14.01" height="3.67" fill="#363093"/>
<rect x="518.21" y="150.09" width="14.01" height="3.67" fill="#2053d4"/>
<rect x="531.93" y="150.09" width="14.01" height="3.67" fill="#1481d6"/>
<rect x="545.64" y="150.09" width="14.01" height="3.67" fill="#25b5a9"/>
<rect x="559.36" y="150.09" width="14.01" height="3.67" fill="#59bd8c"/>
<rect x="573.07" y="150.09" width="14.01" height="3.67" fill="#c8bc5d"/>
<rect x="586.79" y="150.09" width="14.01" height="3.67" fill="#38b99e"/>
<rect x="600.50" y="150.09" width="14.01" height="3.67" fill="#07a9c2"/>
<rect x="614.21" y="150.09" width="14.01" height="3.67" fill="#06a0cd"/>
<rect x="627.93" y="150.09" width="14.01" height="3.67" fill="#06a4ca"/>
<rect x="641.64" y="150.09" width="14.01" height="3.67" fill="#0998d1"/>
<rect x="655.36" y="150.09" width="14.01" height="3.67" fill="#06a4ca"/>
<rect x="669.07" y="150.09" width="14.01" height="3.67" fill="#0aacbe"/>
<rect x="682.79" y="150.09" width="14.01" height="3.67" fill="#9cbf6f"/>
<rect x="696.50" y="150.09" width="14.01" height="3.67" fill="#fdbe3d"/>
<rect x="710.21" y="150.09" width="14.01" height="3.67" fill="#42bb98"/>
<rect x="723.93" y="150.09" width="14.01" height="3.67" fill="#07a9c2"/>
<rect x="737.64" y="150.09" width="14.01" height="3.67" fill="#0f5cdd"/>
<rect x="751.36" y="150.09" width="41.44" height="3.67" fill="#363093"/>
<rect x="504.50" y="146.72" width="14.01" height="3.67" fill="#363093"/>
<rect x="518.21" y="146.72" width="14.01" height="3.67" fill="#2053d4"/>
<rect x="531.93" y="146.72" width="14.01" height="3.67" fill="#0d75dc"/>
<rect x="545.64" y="146.72" width="14.01" height="3.67" fill="#0faeb9"/>
<rect x="559.36" y="146.72" width="14.01" height="3.67" fill="#87bf77"/>
<rect x="573.07" y="146.72" width="14.01" height="3.67" fill="#d9ba56"/>
<rect x="586.79" y="146.72" width="14.01" height="3.67" fill="#25b5a9"/>
<rect x="600.50" y="146.72" width="14.01" height="3.67" fill="#06a7c6"/>
<rect x="614.21" y="146.72" width="14.01" height="3.67" fill="#0c93d2"/>
<rect x="627.93" y="146.72" width="14.01" height="3.67" fill="#079ccf"/>
<rect x="641.64" y="146.72" width="14.01" height="3.67" fill="#06a4ca"/>
<rect x="655.36" y="146.72" width="14.01" height="3.67" fill="#079ccf"/>
<rect x="669.07" y="146.72" width="14.01" height="3.67" fill="#0faeb9"/>
<rect x="682.79" y="146.72" width="14.01" height="3.67" fill="#b7bd64"/>
<rect x="696.50" y="146.72" width="14.01" height="3.67" fill="#71bf80"/>
<rect x="710.21" y="146.72" width="14.01" height="3.67" fill="#25b5a9"/>
<rect x="723.93" y="146.72" width="14.01" height="3.67" fill="#06a0cd"/>
<rect x="737.64" y="146.72" width="14.01" height="3.67" fill="#2053d4"/>
<rect x="751.36" y="146.72" width="14.01" height="3.67" fill="#3637a0"/>
<rect x="765.07" y="146.72" width="14.01" height="3.67" fill="#352a87"/>
<rect x="778.79" y="146.72" width="14.01" height="3.67" fill="#363093"/>
<rect x="504.50" y="143.36" width="14.01" height="3.67" fill="#363093"/>
<rect x="518.21" y="143.36" width="14.01" height="3.67" fill="#0268e1"/>
<rect x="531.93" y="143.36" width="14.01" height="3.67" fill="#0998d1"/>
<rect x="545.64" y="143.36" width="14.01" height="3.67" fill="#4dbc92"/>
<rect x="559.36" y="143.36" width="14.01" height="3.67" fill="#e1b952"/>
<rect x="573.07" y="143.36" width="14.01" height="3.67" fill="#71bf80"/>
<rect x="586.79" y="143.36" width="14.01" height="3.67" fill="#0aacbe"/>
<rect x="600.50" y="143.36" width="14.01" height="3.67" fill="#06a0cd"/>
<rect x="614.21" y="143.36" width="14.01" height="3.67" fill="#108ed2"/>
<rect x="627.93" y="143.36" width="14.01" height="3.67" fill="#1485d4"/>
<rect x="641.64" y="143.36" width="14.01" height="3.67" fill="#0c93d2"/>
<rect x="655.36" y="143.36" width="14.01" height="3.67" fill="#06a4ca"/>
<rect x="669.07" y="143.36" width="14.01" height="3.67" fill="#71bf80"/>
<rect x="682.79" y="143.36" width="14.01" height="3.67" fill="#a5be6b"/>
<rect x="696.50" y="143.36" width="14.01" height="3.67" fill="#4dbc92"/>
<rect x="710.21" y="143.36" width="14.01" height="3.67" fill="#2eb7a4"/>
<rect x="723.93" y="143.36" width="14.01" height="3.67" fill="#06a0cd"/>
<rect x="737.64" y="143.36" width="14.01" height="3.67" fill="#0268e1"/>
<rect x="751.36" y="143.36" width="14.01" height="3.67" fill="#3243ba"/>
<rect x="765.07" y="143.36" width="27.73" height="3.67" fill="#363093"/>
<rect x="504.50" y="139.99" width="14.01" height="3.67" fill="#363093"/>
<rect x="518.21" y="139.99" width="14.01" height="3.67" fill="#046de0"/>
<rect x="531.93" y="139.99" width="14.01" height="3.67" fill="#06a0cd"/>
<rect x="545.64" y="139.99" width="14.01" height="3.67" fill="#71bf80"/>
<rect x="559.36" y="139.99" width="14.01" height="3.67" fill="#92bf73"/>
<rect x="573.07" y="139.99" width="14.01" height="3.67" fill="#38b99e"/>
<rect x="586.79" y="139.99" width="14.01" height="3.67" fill="#15b1b4"/>
<rect x="600.50" y="139.99" width="14.01" height="3.67" fill="#108ed2"/>
<rect x="614.21" y="139.99" width="14.01" height="3.67" fill="#1079da"/>
<rect x="627.93" y="139.99" width="14.01" height="3.67" fill="#108ed2"/>
<rect x="641.64" y="139.99" width="14.01" height="3.67" fill="#0998d1"/>
<rect x="655.36" y="139.99" width="14.01" height="3.67" fill="#07a9c2"/>
<rect x="669.07" y="139.99" width="14.01" height="3.67" fill="#4dbc92"/>
<rect x="682.79" y="139.99" width="14.01" height="3.67" fill="#b7bd64"/>
<rect x="696.50" y="139.99" width="14.01" height="3.67" fill="#c8bc5d"/>
<rect x="710.21" y="139.99" width="14.01" height="3.67" fill="#06a4ca"/>
<rect x="723.93" y="139.99" width="14.01" height="3.67" fill="#1389d3"/>
<rect x="737.64" y="139.99" width="14.01" height="3.67" fill="#2053d4"/>
<rect x="751.36" y="139.99" width="14.01" height="3.67" fill="#352a87"/>
<rect x="765.07" y="139.99" width="27.73" height="3.67" fill="#363093"/>
<rect x="504.50" y="136.63" width="14.01" height="3.67" fill="#363093"/>
<rect x="518.21" y="136.63" width="14.01" height="3.67" fill="#3637a0"/>
<rect x="531.93" y="136.63" width="14.01" height="3.67" fill="#0871de"/>
<rect x="545.64" y="136.63" width="14.01" height="3.67" fill="#06a0cd"/>
<rect x="559.36" y="136.63" width="14.01" height="3.67" fill="#2eb7a4"/>
<rect x="573.07" y="136.63" width="14.01" height="3.67" fill="#a5be6b"/>
<rect x="586.79" y="136.63" width="14.01" height="3.67" fill="#7cbf7b"/>
<rect x="600.50" y="136.63" width="14.01" height="3.67" fill="#4dbc92"/>
<rect x="614.21" y="136.63" width="14.01" height="3.67" fill="#0c93d2"/>
<rect x="627.93" y="136.63" width="14.01" height="3.67" fill="#0998d1"/>
<rect x="641.64" y="136.63" width="14.01" height="3.67" fill="#0c93d2"/>
<rect x="655.36" y="136.63" width="14.01" height="3.67" fill="#1481d6"/>
<rect x="669.07" y="136.63" width="27.73" height="3.67" fill="#1485d4"/>
<rect x="696.50" y="136.63" width="14.01" height="3.67" fill="#4dbc92"/>
<rect x="710.21" y="136.63" width="14.01" height="3.67" fill="#65be86"/>
<rect x="723.93" y="136.63" width="14.01" height="3.67" fill="#4dbc92"/>
<rect x="737.64" y="136.63" width="14.01" height="3.67" fill="#42bb98"/>
<rect x="751.36" y="136.63" width="14.01" height="3.67" fill="#06a7c6"/>
<rect x="765.07" y="136.63" width="14.01" height="3.67" fill="#046de0"/>
<rect x="778.79" y="136.63" width="14.01" height="3.67" fill="#363093"/>
<rect x="504.50" y="133.26" width="14.01" height="3.67" fill="#3637a0"/>
<rect x="518.21" y="133.26" width="14.01" height="3.67" fill="#0871de"/>
<rect x="531.93" y="133.26" width="14.01" height="3.67" fill="#06a7c6"/>
<rect x="545.64" y="133.26" width="14.01" height="3.67" fill="#c8bc5d"/>
<rect x="559.36" y="133.26" width="14.01" height="3.67" fill="#59bd8c"/>
<rect x="573.07" y="133.26" width="14.01" height="3.67" fill="#92bf73"/>
<rect x="586.79" y="133.26" width="14.01" height="3.67" fill="#06a7c6"/>
<rect x="600.50" y="133.26" width="14.01" height="3.67" fill="#0998d1"/>
<rect x="614.21" y="133.26" width="27.73" height="3.67" fill="#1389d3"/>
<rect x="641.64" y="133.26" width="14.01" height="3.67" fill="#0998d1"/>
<rect x="655.36" y="133.26" width="14.01" height="3.67" fill="#0c93d2"/>
<rect x="669.07" y="133.26" width="27.73" height="3.67" fill="#87bf77"/>
<rect x="696.50" y="133.26" width="14.01" height="3.67" fill="#0faeb9"/>
<rect x="710.21" y="133.26" width="14.01" height="3.67" fill="#07a9c2"/>
<rect x="723.93" y="133.26" width="14.01" height="3.67" fill="#0998d1"/>
<rect x="737.64" y="133.26" width="14.01" height="3.67" fill="#0268e1"/>
<rect x="751.36" y="133.26" width="14.01" height="3.67" fill="#0363e1"/>
<rect x="765.07" y="133.26" width="14.01" height="3.67" fill="#353dad"/>
<rect x="778.79" y="133.26" width="14.01" height="3.67" fill="#363093"/>
<rect x="504.50" y="129.90" width="14.01" height="3.67" fill="#3637a0"/>
<rect x="518.21" y="129.90" width="14.01" height="3.67" fill="#0871de"/>
<rect x="531.93" y="129.90" width="14.01" height="3.67" fill="#06a4ca"/>
<rect x="545.64" y="129.90" width="14.01" height="3.67" fill="#c0bc60"/>
<rect x="559.36" y="129.90" width="14.01" height="3.67" fill="#42bb98"/>
<rect x="573.07" y="129.90" width="14.01" height="3.67" fill="#59bd8c"/>
<rect x="586.79" y="129.90" width="27.73" height="3.67" fill="#06a0cd"/>
<rect x="614.21" y="129.90" width="14.01" height="3.67" fill="#1485d4"/>
<rect x="627.93" y="129.90" width="14.01" height="3.67" fill="#1481d6"/>
<rect x="641.64" y="129.90" width="14.01" height="3.67" fill="#1389d3"/>
<rect x="655.36" y="129.90" width="14.01" height="3.67" fill="#108ed2"/>
<rect x="669.07" y="129.90" width="14.01" height="3.67" fill="#87bf77"/>
<rect x="682.79" y="129.90" width="14.01" height="3.67" fill="#92bf73"/>
<rect x="696.50" y="129.90" width="14.01" height="3.67" fill="#1db3af"/>
<rect x="710.21" y="129.90" width="14.01" height="3.67" fill="#06a4ca"/>
<rect x="723.93" y="129.90" width="14.01" height="3.67" fill="#108ed2"/>
<rect x="737.64" y="129.90" width="14.01" height="3.67" fill="#046de0"/>
<rect x="751.36" y="129.90" width="14.01" height="3.67" fill="#2053d4"/>
<rect x="765.07" y="129.90" width="14.01" height="3.67" fill="#3637a0"/>
<rect x="778.79" y="129.90" width="14.01" height="3.67" fill="#363093"/>
<rect x="504.50" y="126.53" width="14.01" height="3.67" fill="#3637a0"/>
<rect x="518.21" y="126.53" width="14.01" height="3.67" fill="#0871de"/>
<rect x="531.93" y="126.53" width="14.01" height="3.67" fill="#07a9c2"/>
<rect x="545.64" y="126.53" width="14.01" height="3.67" fill="#4dbc92"/>
<rect x="559.36" y="126.53" width="14.01" height="3.67" fill="#a5be6b"/>
<rect x="573.07" y="126.53" width="14.01" height="3.67" fill="#38b99e"/>
<rect x="586.79" y="126.53" width="14.01" height="3.67" fill="#07a9c2"/>
<rect x="600.50" y="126.53" width="14.01" height="3.67" fill="#0998d1"/>
<rect x="614.21" y="126.53" width="27.73" height="3.67" fill="#1079da"/>
<rect x="641.64" y="126.53" width="14.01" height="3.67" fill="#1389d3"/>
<rect x="655.36" y="126.53" width="14.01" height="3.67" fill="#108ed2"/>
<rect x="669.07" y="126.53" width="14.01" height="3.67" fill="#1db3af"/>
<rect x="682.79" y="126.53" width="14.01" height="3.67" fill="#92bf73"/>
<rect x="696.50" y="126.53" width="14.01" height="3.67" fill="#d9ba56"/>
<rect x="710.21" y="126.53" width="14.01" height="3.67" fill="#f5e41d"/>
<rect x="723.93" y="126.53" width="14.01" height="3.67" fill="#079ccf"/>
<rect x="737.64" y="126.53" width="14.01" height="3.67" fill="#0268e1"/>
<rect x="751.36" y="126.53" width="14.01" height="3.67" fill="#353dad"/>
<rect x="765.07" y="126.53" width="27.73" height="3.67" fill="#363093"/>
<rect x="504.50" y="123.17" width="14.01" height="3.67" fill="#353dad"/>
<rect x="518.21" y="123.17" width="14.01" height="3.67" fill="#0268e1"/>
<rect x="531.93" y="123.17" width="14.01" height="3.67" fill="#06a7c6"/>
<rect x="545.64" y="123.17" width="14.01" height="3.67" fill="#65be86"/>
<rect x="559.36" y="123.17" width="14.01" height="3.67" fill="#b7bd64"/>
<rect x="573.07" y="123.17" width="14.01" height="3.67" fill="#4dbc92"/>
<rect x="586.79" y="123.17" width="14.01" height="3.67" fill="#079ccf"/>
<rect x="600.50" y="123.17" width="14.01" height="3.67" fill="#0998d1"/>
<rect x="614.21" y="123.17" width="14.01" height="3.67" fill="#1485d4"/>
<rect x="627.93" y="123.17" width="14.01" height="3.67" fill="#127dd8"/>
<rect x="641.64" y="123.17" width="14.01" height="3.67" fill="#1389d3"/>
<rect x="655.36" y="123.17" width="14.01" height="3.67" fill="#06a4ca"/>
<rect x="669.07" y="123.17" width="14.01" height="3.67" fill="#2eb7a4"/>
<rect x="682.79" y="123.17" width="27.73" height="3.67" fill="#92bf73"/>
<rect x="710.21" y="123.17" width="14.01" height="3.67" fill="#38b99e"/>
<rect x="723.93" y="123.17" width="14.01" height="3.67" fill="#07a9c2"/>
<rect x="737.64" y="123.17" width="14.01" height="3.67" fill="#0268e1"/>
<rect x="751.36" y="123.17" width="14.01" height="3.67" fill="#3637a0"/>
<rect x="765.07" y="123.17" width="14.01" height="3.67" fill="#352a87"/>
<rect x="778.79" y="123.17" width="14.01" height="3.67" fill="#363093"/>
<rect x="504.50" y="119.80" width="14.01" height="3.67" fill="#363093"/>
<rect x="518.21" y="119.80" width="14.01" height="3.67" fill="#2053d4"/>
<rect x="531.93" y="119.80" width="14.01" height="3.67" fill="#06a0cd"/>
<rect x="545.64" y="119.80" width="14.01" height="3.67" fill="#aebe67"/>
<rect x="559.36" y="119.80" width="14.01" height="3.67" fill="#71bf80"/>
<rect x="573.07" y="119.80" width="14.01" height="3.67" fill="#2eb7a4"/>
<rect x="586.79" y="119.80" width="27.73" height="3.67" fill="#06a7c6"/>
<rect x="614.21" y="119.80" width="14.01" height="3.67" fill="#0998d1"/>
<rect x="627.93" y="119.80" width="14.01" height="3.67" fill="#1389d3"/>
<rect x="641.64" y="119.80" width="14.01" height="3.67" fill="#108ed2"/>
<rect x="655.36" y="119.80" width="14.01" height="3.67" fill="#06a4ca"/>
<rect x="669.07" y="119.80" width="14.01" height="3.67" fill="#1db3af"/>
<rect x="682.79" y="119.80" width="14.01" height="3.67" fill="#9cbf6f"/>
<rect x="696.50" y="119.80" width="14.01" height="3.67" fill="#d1bb59"/>
<rect x="710.21" y="119.80" width="14.01" height="3.67" fill="#92bf73"/>
<rect x="723.93" y="119.80" width="27.73" height="3.67" fill="#1db3af"/>
<rect x="751.36" y="119.80" width="14.01" height="3.67" fill="#0f5cdd"/>
<rect x="765.07" y="119.80" width="14.01" height="3.67" fill="#3243ba"/>
<rect x="778.79" y="119.80" width="14.01" height="3.67" fill="#352a87"/>
<rect x="504.50" y="116.44" width="14.01" height="3.67" fill="#363093"/>
<rect x="518.21" y="116.44" width="14.01" height="3.67" fill="#046de0"/>
<rect x="531.93" y="116.44" width="14.01" height="3.67" fill="#06a7c6"/>
<rect x="545.64" y="116.44" width="27.73" height="3.67" fill="#7cbf7b"/>
<rect x="573.07" y="116.44" width="14.01" height="3.67" fill="#25b5a9"/>
<rect x="586.79" y="116.44" width="14.01" height="3.67" fill="#0faeb9"/>
<rect x="600.50" y="116.44" width="14.01" height="3.67" fill="#06a7c6"/>
<rect x="614.21" y="116.44" width="14.01" height="3.67" fill="#079ccf"/>
<rect x="627.93" y="116.44" width="14.01" height="3.67" fill="#108ed2"/>
<rect x="641.64" y="116.44" width="14.01" height="3.67" fill="#0c93d2"/>
<rect x="655.36" y="116.44" width="14.01" height="3.67" fill="#06a4ca"/>
<rect x="669.07" y="116.44" width="14.01" height="3.67" fill="#42bb98"/>
<rect x="682.79" y="116.44" width="14.01" height="3.67" fill="#a5be6b"/>
<rect x="696.50" y="116.44" width="14.01" height="3.67" fill="#d9ba56"/>
<rect x="710.21" y="116.44" width="14.01" height="3.67" fill="#f8bb44"/>
<rect x="723.93" y="116.44" width="14.01" height="3.67" fill="#06a4ca"/>
<rect x="737.64" y="116.44" width="14.01" height="3.67" fill="#0363e1"/>
<rect x="751.36" y="116.44" width="14.01" height="3.67" fill="#3243ba"/>
<rect x="765.07" y="116.44" width="14.01" height="3.67" fill="#363093"/>
<rect x="778.79" y="116.44" width="14.01" height="3.67" fill="#352a87"/>
<rect x="504.50" y="113.07" width="14.01" height="3.67" fill="#363093"/>
<rect x="518.21" y="113.07" width="14.01" height="3.67" fill="#0268e1"/>
<rect x="531.93" y="113.07" width="14.01" height="3.67" fill="#06a4ca"/>
<rect x="545.64" y="113.07" width="14.01" height="3.67" fill="#71bf80"/>
<rect x="559.36" y="113.07" width="14.01" height="3.67" fill="#fdbe3d"/>
<rect x="573.07" y="113.07" width="14.01" height="3.67" fill="#59bd8c"/>
<rect x="586.79" y="113.07" width="14.01" height="3.67" fill="#0faeb9"/>
<rect x="600.50" y="113.07" width="14.01" height="3.67" fill="#06a0cd"/>
<rect x="614.21" y="113.07" width="14.01" height="3.67" fill="#0998d1"/>
<rect x="627.93" y="113.07" width="14.01" height="3.67" fill="#1389d3"/>
<rect x="641.64" y="113.07" width="14.01" height="3.67" fill="#0998d1"/>
<rect x="655.36" y="113.07" width="14.01" height="3.67" fill="#07a9c2"/>
<rect x="669.07" y="113.07" width="14.01" height="3.67" fill="#42bb98"/>
<rect x="682.79" y="113.07" width="14.01" height="3.67" fill="#aebe67"/>
<rect x="696.50" y="113.07" width="14.01" height="3.67" fill="#71bf80"/>
<rect x="710.21" y="113.07" width="14.01" height="3.67" fill="#25b5a9"/>
<rect x="723.93" y="113.07" width="14.01" height="3.67" fill="#06a7c6"/>
<rect x="737.64" y="113.07" width="14.01" height="3.67" fill="#0871de"/>
<rect x="751.36" y="113.07" width="14.01" height="3.67" fill="#353dad"/>
<rect x="765.07" y="113.07" width="27.73" height="3.67" fill="#363093"/>
<rect x="504.50" y="109.71" width="14.01" height="3.67" fill="#363093"/>
<rect x="518.21" y="109.71" width="14.01" height="3.67" fill="#0f5cdd"/>
<rect x="531.93" y="109.71" width="14.01" height="3.67" fill="#06a4ca"/>
<rect x="545.64" y="109.71" width="14.01" height="3.67" fill="#92bf73"/>
<rect x="559.36" y="109.71" width="27.73" height="3.67" fill="#42bb98"/>
<rect x="586.79" y="109.71" width="14.01" height="3.67" fill="#07a9c2"/>
<rect x="600.50" y="109.71" width="14.01" height="3.67" fill="#079ccf"/>
<rect x="614.21" y="109.71" width="14.01" height="3.67" fill="#0998d1"/>
<rect x="627.93" y="109.71" width="14.01" height="3.67" fill="#108ed2"/>
<rect x="641.64" y="109.71" width="14.01" height="3.67" fill="#0c93d2"/>
<rect x="655.36" y="109.71" width="14.01" height="3.67" fill="#06a4ca"/>
<rect x="669.07" y="109.71" width="14.01" height="3.67" fill="#06a7c6"/>
<rect x="682.79" y="109.71" width="14.01" height="3.67" fill="#7cbf7b"/>
<rect x="696.50" y="109.71" width="14.01" height="3.67" fill="#92bf73"/>
<rect x="710.21" y="109.71" width="14.01" height="3.67" fill="#71bf80"/>
<rect x="723.93" y="109.71" width="14.01" height="3.67" fill="#42bb98"/>
<rect x="737.64" y="109.71" width="14.01" height="3.67" fill="#15b1b4"/>
<rect x="751.36" y="109.71" width="14.01" height="3.67" fill="#0268e1"/>
<rect x="765.07" y="109.71" width="14.01" height="3.67" fill="#2c4ac7"/>
<rect x="778.79" y="109.71" width="14.01" height="3.67" fill="#363093"/>
<rect x="504.50" y="106.34" width="14.01" height="3.67" fill="#363093"/>
<rect x="518.21" y="106.34" width="14.01" height="3.67" fill="#0363e1"/>
<rect x="531.93" y="106.34" width="14.01" height="3.67" fill="#0aacbe"/>
<rect x="545.64" y="106.34" width="27.73" height="3.67" fill="#b7bd64"/>
<rect x="573.07" y="106.34" width="14.01" height="3.67" fill="#25b5a9"/>
<rect x="586.79" y="106.34" width="14.01" height="3.67" fill="#0aacbe"/>
<rect x="600.50" y="106.34" width="14.01" height="3.67" fill="#0998d1"/>
<rect x="614.21" y="106.34" width="14.01" height="3.67" fill="#1389d3"/>
<rect x="627.93" y="106.34" width="27.73" height="3.67" fill="#108ed2"/>
<rect x="655.36" y="106.34" width="14.01" height="3.67" fill="#07a9c2"/>
<rect x="669.07" y="106.34" width="14.01" height="3.67" fill="#59bd8c"/>
<rect x="682.79" y="106.34" width="14.01" height="3.67" fill="#e1b952"/>
<rect x="696.50" y="106.34" width="14.01" height="3.67" fill="#b7bd64"/>
<rect x="710.21" y="106.34" width="14.01" height="3.67" fill="#15b1b4"/>
<rect x="723.93" y="106.34" width="14.01" height="3.67" fill="#06a0cd"/>
<rect x="737.64" y="106.34" width="14.01" height="3.67" fill="#0268e1"/>
<rect x="751.36" y="106.34" width="27.73" height="3.67" fill="#3637a0"/>
<rect x="778.79" y="106.34" width="14.01" height="3.67" fill="#363093"/>
<rect x="504.50" y="102.98" width="14.01" height="3.67" fill="#3637a0"/>
<rect x="518.21" y="102.98" width="14.01" height="3.67" fill="#0871de"/>
<rect x="531.93" y="102.98" width="14.01" height="3.67" fill="#06a4ca"/>
<rect x="545.64" y="102.98" width="14.01" height="3.67" fill="#9cbf6f"/>
<rect x="559.36" y="102.98" width="14.01" height="3.67" fill="#b7bd64"/>
<rect x="573.07" y="102.98" width="14.01" height="3.67" fill="#42bb98"/>
<rect x="586.79" y="102.98" width="14.01" height="3.67" fill="#15b1b4"/>
<rect x="600.50" y="102.98" width="14.01" height="3.67" fill="#079ccf"/>
<rect x="614.21" y="102.98" width="41.44" height="3.67" fill="#108ed2"/>
<rect x="655.36" y="102.98" width="14.01" height="3.67" fill="#0998d1"/>
<rect x="669.07" y="102.98" width="14.01" height="3.67" fill="#15b1b4"/>
<rect x="682.79" y="102.98" width="14.01" height="3.67" fill="#aebe67"/>
<rect x="696.50" y="102.98" width="14.01" height="3.67" fill="#c8bc5d"/>
<rect x="710.21" y="102.98" width="14.01" height="3.67" fill="#59bd8c"/>
<rect x="723.93" y="102.98" width="14.01" height="3.67" fill="#06a7c6"/>
<rect x="737.64" y="102.98" width="14.01" height="3.67" fill="#0363e1"/>
<rect x="751.36" y="102.98" width="14.01" height="3.67" fill="#3637a0"/>
<rect x="765.07" y="102.98" width="27.73" height="3.67" fill="#352a87"/>
<rect x="504.50" y="99.61" width="14.01" height="3.67" fill="#363093"/>
<rect x="518.21" y="99.61" width="14.01" height="3.67" fill="#0268e1"/>
<rect x="531.93" y="99.61" width="14.01" height="3.67" fill="#06a7c6"/>
<rect x="545.64" y="99.61" width="14.01" height="3.67" fill="#87bf77"/>
<rect x="559.36" y="99.61" width="14.01" height="3.67" fill="#c0bc60"/>
<rect x="573.07" y="99.61" width="14.01" height="3.67" fill="#1db3af"/>
<rect x="586.79" y="99.61" width="14.01" height="3.67" fill="#07a9c2"/>
<rect x="600.50" y="99.61" width="14.01" height="3.67" fill="#06a0cd"/>
<rect x="614.21" y="99.61" width="14.01" height="3.67" fill="#108ed2"/>
<rect x="627.93" y="99.61" width="14.01" height="3.67" fill="#1079da"/>
<rect x="641.64" y="99.61" width="14.01" height="3.67" fill="#108ed2"/>
<rect x="655.36" y="99.61" width="14.01" height="3.67" fill="#06a0cd"/>
<rect x="669.07" y="99.61" width="14.01" height="3.67" fill="#0aacbe"/>
<rect x="682.79" y="99.61" width="14.01" height="3.67" fill="#7cbf7b"/>
<rect x="696.50" y="99.61" width="14.01" height="3.67" fill="#c8bc5d"/>
<rect x="710.21" y="99.61" width="14.01" height="3.67" fill="#fad32a"/>
<rect x="723.93" y="99.61" width="14.01" height="3.67" fill="#87bf77"/>
<rect x="737.64" y="99.61" width="14.01" height="3.67" fill="#0268e1"/>
<rect x="751.36" y="99.61" width="14.01" height="3.67" fill="#353dad"/>
<rect x="765.07" y="99.61" width="27.73" height="3.67" fill="#363093"/>
<rect x="504.50" y="96.25" width="14.01" height="3.67" fill="#363093"/>
<rect x="518.21" y="96.25" width="14.01" height="3.67" fill="#0871de"/>
<rect x="531.93" y="96.25" width="14.01" height="3.67" fill="#0faeb9"/>
<rect x="545.64" y="96.25" width="14.01" height="3.67" fill="#92bf73"/>
<rect x="559.36" y="96.25" width="14.01" height="3.67" fill="#aebe67"/>
<rect x="573.07" y="96.25" width="14.01" height="3.67" fill="#42bb98"/>
<rect x="586.79" y="96.25" width="14.01" height="3.67" fill="#0aacbe"/>
<rect x="600.50" y="96.25" width="14.01" height="3.67" fill="#079ccf"/>
<rect x="614.21" y="96.25" width="14.01" height="3.67" fill="#1481d6"/>
<rect x="627.93" y="96.25" width="14.01" height="3.67" fill="#1485d4"/>
<rect x="641.64" y="96.25" width="14.01" height="3.67" fill="#1481d6"/>
<rect x="655.36" y="96.25" width="14.01" height="3.67" fill="#079ccf"/>
<rect x="669.07" y="96.25" width="14.01" height="3.67" fill="#07a9c2"/>
<rect x="682.79" y="96.25" width="14.01" height="3.67" fill="#87bf77"/>
<rect x="696.50" y="96.25" width="14.01" height="3.67" fill="#c0bc60"/>
<rect x="710.21" y="96.25" width="14.01" height="3.67" fill="#fcce2e"/>
<rect x="723.93" y="96.25" width="14.01" height="3.67" fill="#42bb98"/>
<rect x="737.64" y="96.25" width="14.01" height="3.67" fill="#046de0"/>
<rect x="751.36" y="96.25" width="14.01" height="3.67" fill="#3637a0"/>
<rect x="765.07" y="96.25" width="27.73" height="3.67" fill="#352a87"/>
<rect x="504.50" y="92.88" width="14.01" height="3.67" fill="#352a87"/>
<rect x="518.21" y="92.88" width="14.01" height="3.67" fill="#353dad"/>
<rect x="531.93" y="92.88" width="14.01" height="3.67" fill="#0d75dc"/>
<rect x="545.64" y="92.88" width="14.01" height="3.67" fill="#87bf77"/>
<rect x="559.36" y="92.88" width="14.01" height="3.67" fill="#aebe67"/>
<rect x="573.07" y="92.88" width="14.01" height="3.67" fill="#38b99e"/>
<rect x="586.79" y="92.88" width="14.01" height="3.67" fill="#07a9c2"/>
<rect x="600.50" y="92.88" width="14.01" height="3.67" fill="#0998d1"/>
<rect x="614.21" y="92.88" width="41.44" height="3.67" fill="#1485d4"/>
<rect x="655.36" y="92.88" width="14.01" height="3.67" fill="#06a0cd"/>
<rect x="669.07" y="92.88" width="14.01" height="3.67" fill="#15b1b4"/>
<rect x="682.79" y="92.88" width="14.01" height="3.67" fill="#59bd8c"/>
<rect x="696.50" y="92.88" width="14.01" height="3.67" fill="#92bf73"/>
<rect x="710.21" y="92.88" width="14.01" height="3.67" fill="#aebe67"/>
<rect x="723.93" y="92.88" width="14.01" height="3.67" fill="#4dbc92"/>
<rect x="737.64" y="92.88" width="14.01" height="3.67" fill="#06a0cd"/>
<rect x="751.36" y="92.88" width="14.01" height="3.67" fill="#046de0"/>
<rect x="765.07" y="92.88" width="14.01" height="3.67" fill="#2053d4"/>
<rect x="778.79" y="92.88" width="14.01" height="3.67" fill="#363093"/>
<rect x="504.50" y="89.52" width="14.01" height="3.67" fill="#363093"/>
<rect x="518.21" y="89.52" width="14.01" height="3.67" fill="#127dd8"/>
<rect x="531.93" y="89.52" width="14.01" height="3.67" fill="#0aacbe"/>
<rect x="545.64" y="89.52" width="14.01" height="3.67" fill="#87bf77"/>
<rect x="559.36" y="89.52" width="14.01" height="3.67" fill="#9cbf6f"/>
<rect x="573.07" y="89.52" width="14.01" height="3.67" fill="#06a0cd"/>
<rect x="586.79" y="89.52" width="14.01" height="3.67" fill="#0aacbe"/>
<rect x="600.50" y="89.52" width="14.01" height="3.67" fill="#108ed2"/>
<rect x="614.21" y="89.52" width="14.01" height="3.67" fill="#127dd8"/>
<rect x="627.93" y="89.52" width="14.01" height="3.67" fill="#0d75dc"/>
<rect x="641.64" y="89.52" width="14.01" height="3.67" fill="#127dd8"/>
<rect x="655.36" y="89.52" width="14.01" height="3.67" fill="#0998d1"/>
<rect x="669.07" y="89.52" width="14.01" height="3.67" fill="#07a9c2"/>
<rect x="682.79" y="89.52" width="14.01" height="3.67" fill="#65be86"/>
<rect x="696.50" y="89.52" width="14.01" height="3.67" fill="#d1bb59"/>
<rect x="710.21" y="89.52" width="14.01" height="3.67" fill="#f9fb0e"/>
<rect x="723.93" y="89.52" width="14.01" height="3.67" fill="#0aacbe"/>
<rect x="737.64" y="89.52" width="14.01" height="3.67" fill="#0363e1"/>
<rect x="751.36" y="89.52" width="14.01" height="3.67" fill="#3637a0"/>
<rect x="765.07" y="89.52" width="27.73" height="3.67" fill="#363093"/>
<rect x="504.50" y="86.15" width="14.01" height="3.67" fill="#363093"/>
<rect x="518.21" y="86.15" width="14.01" height="3.67" fill="#3243ba"/>
<rect x="531.93" y="86.15" width="14.01" height="3.67" fill="#127dd8"/>
<rect x="545.64" y="86.15" width="14.01" height="3.67" fill="#87bf77"/>
<rect x="559.36" y="86.15" width="14.01" height="3.67" fill="#a5be6b"/>
<rect x="573.07" y="86.15" width="14.01" height="3.67" fill="#42bb98"/>
<rect x="586.79" y="86.15" width="14.01" height="3.67" fill="#07a9c2"/>
<rect x="600.50" y="86.15" width="14.01" height="3.67" fill="#06a0cd"/>
<rect x="614.21" y="86.15" width="14.01" height="3.67" fill="#0c93d2"/>
<rect x="627.93" y="86.15" width="14.01" height="3.67" fill="#0871de"/>
<rect x="641.64" y="86.15" width="14.01" height="3.67" fill="#1481d6"/>
<rect x="655.36" y="86.15" width="14.01" height="3.67" fill="#1485d4"/>
<rect x="669.07" y="86.15" width="14.01" height="3.67" fill="#06a4ca"/>
<rect x="682.79" y="86.15" width="14.01" height="3.67" fill="#87bf77"/>
<rect x="696.50" y="86.15" width="14.01" height="3.67" fill="#71bf80"/>
<rect x="710.21" y="86.15" width="14.01" height="3.67" fill="#9cbf6f"/>
<rect x="723.93" y="86.15" width="14.01" height="3.67" fill="#4dbc92"/>
<rect x="737.64" y="86.15" width="14.01" height="3.67" fill="#0aacbe"/>
<rect x="751.36" y="86.15" width="14.01" height="3.67" fill="#0363e1"/>
<rect x="765.07" y="86.15" width="14.01" height="3.67" fill="#3243ba"/>
<rect x="778.79" y="86.15" width="14.01" height="3.67" fill="#363093"/>
<rect x="504.50" y="82.79" width="14.01" height="3.67" fill="#363093"/>
<rect x="518.21" y="82.79" width="14.01" height="3.67" fill="#3243ba"/>
<rect x="531.93" y="82.79" width="14.01" height="3.67" fill="#1079da"/>
<rect x="545.64" y="82.79" width="14.01" height="3.67" fill="#7cbf7b"/>
<rect x="559.36" y="82.79" width="14.01" height="3.67" fill="#c8bc5d"/>
<rect x="573.07" y="82.79" width="14.01" height="3.67" fill="#0998d1"/>
<rect x="586.79" y="82.79" width="27.73" height="3.67" fill="#079ccf"/>
<rect x="614.21" y="82.79" width="14.01" height="3.67" fill="#1485d4"/>
<rect x="627.93" y="82.79" width="14.01" height="3.67" fill="#1079da"/>
<rect x="641.64" y="82.79" width="27.73" height="3.67" fill="#127dd8"/>
<rect x="669.07" y="82.79" width="14.01" height="3.67" fill="#1389d3"/>
<rect x="682.79" y="82.79" width="14.01" height="3.67" fill="#06a7c6"/>
<rect x="696.50" y="82.79" width="14.01" height="3.67" fill="#87bf77"/>
<rect x="710.21" y="82.79" width="14.01" height="3.67" fill="#f1b94a"/>
<rect x="723.93" y="82.79" width="14.01" height="3.67" fill="#e9b94e"/>
<rect x="737.64" y="82.79" width="14.01" height="3.67" fill="#15b1b4"/>
<rect x="751.36" y="82.79" width="14.01" height="3.67" fill="#0363e1"/>
<rect x="765.07" y="82.79" width="14.01" height="3.67" fill="#353dad"/>
<rect x="778.79" y="82.79" width="14.01" height="3.67" fill="#363093"/>
<rect x="504.50" y="79.42" width="14.01" height="3.67" fill="#352a87"/>
<rect x="518.21" y="79.42" width="14.01" height="3.67" fill="#0d75dc"/>
<rect x="531.93" y="79.42" width="14.01" height="3.67" fill="#0aacbe"/>
<rect x="545.64" y="79.42" width="14.01" height="3.67" fill="#c0bc60"/>
<rect x="559.36" y="79.42" width="14.01" height="3.67" fill="#b7bd64"/>
<rect x="573.07" y="79.42" width="14.01" height="3.67" fill="#25b5a9"/>
<rect x="586.79" y="79.42" width="14.01" height="3.67" fill="#079ccf"/>
<rect x="600.50" y="79.42" width="14.01" height="3.67" fill="#0998d1"/>
<rect x="614.21" y="79.42" width="14.01" height="3.67" fill="#0c93d2"/>
<rect x="627.93" y="79.42" width="14.01" height="3.67" fill="#1079da"/>
<rect x="641.64" y="79.42" width="14.01" height="3.67" fill="#1389d3"/>
<rect x="655.36" y="79.42" width="14.01" height="3.67" fill="#07a9c2"/>
<rect x="669.07" y="79.42" width="14.01" height="3.67" fill="#4dbc92"/>
<rect x="682.79" y="79.42" width="14.01" height="3.67" fill="#a5be6b"/>
<rect x="696.50" y="79.42" width="14.01" height="3.67" fill="#71bf80"/>
<rect x="710.21" y="79.42" width="14.01" height="3.67" fill="#1db3af"/>
<rect x="723.93" y="79.42" width="14.01" height="3.67" fill="#06a7c6"/>
<rect x="737.64" y="79.42" width="14.01" height="3.67" fill="#046de0"/>
<rect x="751.36" y="79.42" width="41.44" height="3.67" fill="#363093"/>
<rect x="504.50" y="76.06" width="14.01" height="3.67" fill="#352a87"/>
<rect x="518.21" y="76.06" width="14.01" height="3.67" fill="#353dad"/>
<rect x="531.93" y="76.06" width="14.01" height="3.67" fill="#079ccf"/>
<rect x="545.64" y="76.06" width="14.01" height="3.67" fill="#aebe67"/>
<rect x="559.36" y="76.06" width="14.01" height="3.67" fill="#7cbf7b"/>
<rect x="573.07" y="76.06" width="14.01" height="3.67" fill="#0faeb9"/>
<rect x="586.79" y="76.06" width="14.01" height="3.67" fill="#06a7c6"/>
<rect x="600.50" y="76.06" width="14.01" height="3.67" fill="#0c93d2"/>
<rect x="614.21" y="76.06" width="14.01" height="3.67" fill="#1389d3"/>
<rect x="627.93" y="76.06" width="14.01" height="3.67" fill="#1485d4"/>
<rect x="641.64" y="76.06" width="14.01" height="3.67" fill="#1481d6"/>
<rect x="655.36" y="76.06" width="14.01" height="3.67" fill="#06a7c6"/>
<rect x="669.07" y="76.06" width="14.01" height="3.67" fill="#0faeb9"/>
<rect x="682.79" y="76.06" width="14.01" height="3.67" fill="#d1bb59"/>
<rect x="696.50" y="76.06" width="14.01" height="3.67" fill="#b7bd64"/>
<rect x="710.21" y="76.06" width="14.01" height="3.67" fill="#aebe67"/>
<rect x="723.93" y="76.06" width="14.01" height="3.67" fill="#15b1b4"/>
<rect x="737.64" y="76.06" width="14.01" height="3.67" fill="#0363e1"/>
<rect x="751.36" y="76.06" width="14.01" height="3.67" fill="#3637a0"/>
<rect x="765.07" y="76.06" width="14.01" height="3.67" fill="#363093"/>
<rect x="778.79" y="76.06" width="14.01" height="3.67" fill="#352a87"/>
<rect x="504.50" y="72.69" width="14.01" height="3.67" fill="#3637a0"/>
<rect x="518.21" y="72.69" width="14.01" height="3.67" fill="#3243ba"/>
<rect x="531.93" y="72.69" width="14.01" height="3.67" fill="#0aacbe"/>
<rect x="545.64" y="72.69" width="14.01" height="3.67" fill="#c8bc5d"/>
<rect x="559.36" y="72.69" width="14.01" height="3.67" fill="#7cbf7b"/>
<rect x="573.07" y="72.69" width="27.73" height="3.67" fill="#0faeb9"/>
<rect x="600.50" y="72.69" width="14.01" height="3.67" fill="#079ccf"/>
<rect x="614.21" y="72.69" width="14.01" height="3.67" fill="#1481d6"/>
<rect x="627.93" y="72.69" width="14.01" height="3.67" fill="#1485d4"/>
<rect x="641.64" y="72.69" width="14.01" height="3.67" fill="#1481d6"/>
<rect x="655.36" y="72.69" width="14.01" height="3.67" fill="#079ccf"/>
<rect x="669.07" y="72.69" width="14.01" height="3.67" fill="#1db3af"/>
<rect x="682.79" y="72.69" width="14.01" height="3.67" fill="#a5be6b"/>
<rect x="696.50" y="72.69" width="14.01" height="3.67" fill="#d9ba56"/>
<rect x="710.21" y="72.69" width="14.01" height="3.67" fill="#a5be6b"/>
<rect x="723.93" y="72.69" width="14.01" height="3.67" fill="#38b99e"/>
<rect x="737.64" y="72.69" width="14.01" height="3.67" fill="#0268e1"/>
<rect x="751.36" y="72.69" width="14.01" height="3.67" fill="#353dad"/>
<rect x="765.07" y="72.69" width="14.01" height="3.67" fill="#363093"/>
<rect x="778.79" y="72.69" width="14.01" height="3.67" fill="#352a87"/>
<rect x="504.50" y="69.33" width="14.01" height="3.67" fill="#363093"/>
<rect x="518.21" y="69.33" width="14.01" height="3.67" fill="#0871de"/>
<rect x="531.93" y="69.33" width="14.01" height="3.67" fill="#07a9c2"/>
<rect x="545.64" y="69.33" width="14.01" height="3.67" fill="#c8bc5d"/>
<rect x="559.36" y="69.33" width="14.01" height="3.67" fill="#42bb98"/>
<rect x="573.07" y="69.33" width="14.01" height="3.67" fill="#07a9c2"/>
<rect x="586.79" y="69.33" width="14.01" height="3.67" fill="#06a7c6"/>
<rect x="600.50" y="69.33" width="14.01" height="3.67" fill="#108ed2"/>
<rect x="614.21" y="69.33" width="14.01" height="3.67" fill="#1485d4"/>
<rect x="627.93" y="69.33" width="14.01" height="3.67" fill="#1481d6"/>
<rect x="641.64" y="69.33" width="14.01" height="3.67" fill="#127dd8"/>
<rect x="655.36" y="69.33" width="14.01" height="3.67" fill="#06a7c6"/>
<rect x="669.07" y="69.33" width="14.01" height="3.67" fill="#25b5a9"/>
<rect x="682.79" y="69.33" width="14.01" height="3.67" fill="#aebe67"/>
<rect x="696.50" y="69.33" width="14.01" height="3.67" fill="#e9b94e"/>
<rect x="710.21" y="69.33" width="14.01" height="3.67" fill="#a5be6b"/>
<rect x="723.93" y="69.33" width="14.01" height="3.67" fill="#4dbc92"/>
<rect x="737.64" y="69.33" width="14.01" height="3.67" fill="#046de0"/>
<rect x="751.36" y="69.33" width="14.01" height="3.67" fill="#353dad"/>
<rect x="765.07" y="69.33" width="27.73" height="3.67" fill="#352a87"/>
<rect x="504.50" y="65.96" width="14.01" height="3.67" fill="#3637a0"/>
<rect x="518.21" y="65.96" width="14.01" height="3.67" fill="#1079da"/>
<rect x="531.93" y="65.96" width="14.01" height="3.67" fill="#0aacbe"/>
<rect x="545.64" y="65.96" width="14.01" height="3.67" fill="#b7bd64"/>
<rect x="559.36" y="65.96" width="14.01" height="3.67" fill="#71bf80"/>
<rect x="573.07" y="65.96" width="27.73" height="3.67" fill="#06a7c6"/>
<rect x="600.50" y="65.96" width="14.01" height="3.67" fill="#108ed2"/>
<rect x="614.21" y="65.96" width="14.01" height="3.67" fill="#127dd8"/>
<rect x="627.93" y="65.96" width="27.73" height="3.67" fill="#1481d6"/>
<rect x="655.36" y="65.96" width="14.01" height="3.67" fill="#06a7c6"/>
<rect x="669.07" y="65.96" width="14.01" height="3.67" fill="#1db3af"/>
<rect x="682.79" y="65.96" width="14.01" height="3.67" fill="#b7bd64"/>
<rect x="696.50" y="65.96" width="14.01" height="3.67" fill="#ffc337"/>
<rect x="710.21" y="65.96" width="14.01" height="3.67" fill="#a5be6b"/>
<rect x="723.93" y="65.96" width="14.01" height="3.67" fill="#0faeb9"/>
<rect x="737.64" y="65.96" width="14.01" height="3.67" fill="#046de0"/>
<rect x="751.36" y="65.96" width="14.01" height="3.67" fill="#353dad"/>
<rect x="765.07" y="65.96" width="14.01" height="3.67" fill="#352a87"/>
<rect x="778.79" y="65.96" width="14.01" height="3.67" fill="#363093"/>
<rect x="504.50" y="62.60" width="14.01" height="3.67" fill="#3637a0"/>
<rect x="518.21" y="62.60" width="14.01" height="3.67" fill="#0d75dc"/>
<rect x="531.93" y="62.60" width="14.01" height="3.67" fill="#07a9c2"/>
<rect x="545.64" y="62.60" width="14.01" height="3.67" fill="#a5be6b"/>
<rect x="559.36" y="62.60" width="14.01" height="3.67" fill="#c0bc60"/>
<rect x="573.07" y="62.60" width="14.01" height="3.67" fill="#38b99e"/>
<rect x="586.79" y="62.60" width="14.01" height="3.67" fill="#07a9c2"/>
<rect x="600.50" y="62.60" width="14.01" height="3.67" fill="#0c93d2"/>
<rect x="614.21" y="62.60" width="14.01" height="3.67" fill="#1079da"/>
<rect x="627.93" y="62.60" width="14.01" height="3.67" fill="#127dd8"/>
<rect x="641.64" y="62.60" width="14.01" height="3.67" fill="#1485d4"/>
<rect x="655.36" y="62.60" width="14.01" height="3.67" fill="#07a9c2"/>
<rect x="669.07" y="62.60" width="14.01" height="3.67" fill="#15b1b4"/>
<rect x="682.79" y="62.60" width="14.01" height="3.67" fill="#d9ba56"/>
<rect x="696.50" y="62.60" width="14.01" height="3.67" fill="#d1bb59"/>
<rect x="710.21" y="62.60" width="14.01" height="3.67" fill="#1db3af"/>
<rect x="723.93" y="62.60" width="14.01" height="3.67" fill="#06a0cd"/>
<rect x="737.64" y="62.60" width="14.01" height="3.67" fill="#046de0"/>
<rect x="751.36" y="62.60" width="14.01" height="3.67" fill="#363093"/>
<rect x="765.07" y="62.60" width="27.73" height="3.67" fill="#352a87"/>
<rect x="504.50" y="59.23" width="14.01" height="3.67" fill="#363093"/>
<rect x="518.21" y="59.23" width="14.01" height="3.67" fill="#3243ba"/>
<rect x="531.93" y="59.23" width="14.01" height="3.67" fill="#0c93d2"/>
<rect x="545.64" y="59.23" width="14.01" height="3.67" fill="#a5be6b"/>
<rect x="559.36" y="59.23" width="14.01" height="3.67" fill="#c8bc5d"/>
<rect x="573.07" y="59.23" width="14.01" height="3.67" fill="#1db3af"/>
<rect x="586.79" y="59.23" width="14.01" height="3.67" fill="#06a7c6"/>
<rect x="600.50" y="59.23" width="14.01" height="3.67" fill="#1389d3"/>
<rect x="614.21" y="59.23" width="14.01" height="3.67" fill="#1485d4"/>
<rect x="627.93" y="59.23" width="14.01" height="3.67" fill="#1481d6"/>
<rect x="641.64" y="59.23" width="14.01" height="3.67" fill="#0d75dc"/>
<rect x="655.36" y="59.23" width="14.01" height="3.67" fill="#1389d3"/>
<rect x="669.07" y="59.23" width="14.01" height="3.67" fill="#079ccf"/>
<rect x="682.79" y="59.23" width="14.01" height="3.67" fill="#06a7c6"/>
<rect x="696.50" y="59.23" width="14.01" height="3.67" fill="#92bf73"/>
<rect x="710.21" y="59.23" width="14.01" height="3.67" fill="#d9ba56"/>
<rect x="723.93" y="59.23" width="14.01" height="3.67" fill="#aebe67"/>
<rect x="737.64" y="59.23" width="14.01" height="3.67" fill="#0aacbe"/>
<rect x="751.36" y="59.23" width="14.01" height="3.67" fill="#0268e1"/>
<rect x="765.07" y="59.23" width="14.01" height="3.67" fill="#353dad"/>
<rect x="778.79" y="59.23" width="14.01" height="3.67" fill="#363093"/>
<rect x="504.50" y="55.87" width="14.01" height="3.67" fill="#363093"/>
<rect x="518.21" y="55.87" width="14.01" height="3.67" fill="#3243ba"/>
<rect x="531.93" y="55.87" width="14.01" height="3.67" fill="#0d75dc"/>
<rect x="545.64" y="55.87" width="14.01" height="3.67" fill="#42bb98"/>
<rect x="559.36" y="55.87" width="14.01" height="3.67" fill="#a5be6b"/>
<rect x="573.07" y="55.87" width="14.01" height="3.67" fill="#2eb7a4"/>
<rect x="586.79" y="55.87" width="14.01" height="3.67" fill="#06a4ca"/>
<rect x="600.50" y="55.87" width="14.01" height="3.67" fill="#0998d1"/>
<rect x="614.21" y="55.87" width="14.01" height="3.67" fill="#1481d6"/>
<rect x="627.93" y="55.87" width="14.01" height="3.67" fill="#0d75dc"/>
<rect x="641.64" y="55.87" width="14.01" height="3.67" fill="#046de0"/>
<rect x="655.36" y="55.87" width="14.01" height="3.67" fill="#1079da"/>
<rect x="669.07" y="55.87" width="14.01" height="3.67" fill="#1389d3"/>
<rect x="682.79" y="55.87" width="14.01" height="3.67" fill="#07a9c2"/>
<rect x="696.50" y="55.87" width="14.01" height="3.67" fill="#9cbf6f"/>
<rect x="710.21" y="55.87" width="14.01" height="3.67" fill="#f1b94a"/>
<rect x="723.93" y="55.87" width="14.01" height="3.67" fill="#a5be6b"/>
<rect x="737.64" y="55.87" width="14.01" height="3.67" fill="#0faeb9"/>
<rect x="751.36" y="55.87" width="14.01" height="3.67" fill="#0d75dc"/>
<rect x="765.07" y="55.87" width="14.01" height="3.67" fill="#2c4ac7"/>
<rect x="778.79" y="55.87" width="14.01" height="3.67" fill="#352a87"/>
<rect x="504.50" y="52.50" width="14.01" height="3.67" fill="#363093"/>
<rect x="518.21" y="52.50" width="14.01" height="3.67" fill="#353dad"/>
<rect x="531.93" y="52.50" width="14.01" height="3.67" fill="#0268e1"/>
<rect x="545.64" y="52.50" width="14.01" height="3.67" fill="#59bd8c"/>
<rect x="559.36" y="52.50" width="14.01" height="3.67" fill="#a5be6b"/>
<rect x="573.07" y="52.50" width="14.01" height="3.67" fill="#25b5a9"/>
<rect x="586.79" y="52.50" width="14.01" height="3.67" fill="#06a7c6"/>
<rect x="600.50" y="52.50" width="14.01" height="3.67" fill="#108ed2"/>
<rect x="614.21" y="52.50" width="14.01" height="3.67" fill="#1485d4"/>
<rect x="627.93" y="52.50" width="14.01" height="3.67" fill="#1079da"/>
<rect x="641.64" y="52.50" width="14.01" height="3.67" fill="#0871de"/>
<rect x="655.36" y="52.50" width="27.73" height="3.67" fill="#1481d6"/>
<rect x="682.79" y="52.50" width="14.01" height="3.67" fill="#07a9c2"/>
<rect x="696.50" y="52.50" width="14.01" height="3.67" fill="#2eb7a4"/>
<rect x="710.21" y="52.50" width="14.01" height="3.67" fill="#d9ba56"/>
<rect x="723.93" y="52.50" width="14.01" height="3.67" fill="#7cbf7b"/>
<rect x="737.64" y="52.50" width="14.01" height="3.67" fill="#38b99e"/>
<rect x="751.36" y="52.50" width="14.01" height="3.67" fill="#0871de"/>
<rect x="765.07" y="52.50" width="14.01" height="3.67" fill="#2053d4"/>
<rect x="778.79" y="52.50" width="14.01" height="3.67" fill="#363093"/>
</g>
<g stroke="#262626" stroke-width="1" fill="none">
<rect x="504.5" y="52.5" width="288.0" height="212.0"/>
<path d="M511.5 264.5v-3"/>
<path d="M648.5 264.5v-3"/>
<path d="M785.5 264.5v-3"/>
<path d="M504.5 198.5h3"/>
<path d="M504.5 131.5h3"/>
<path d="M504.5 64.5h3"/>
</g>
<text class="t" x="510.4" y="292" text-anchor="middle">0</text>
<text class="t" x="647.5" y="292" text-anchor="middle">0.5</text>
<text class="t" x="784.6" y="292" text-anchor="middle">1</text>
<text class="t" x="495" y="206.2" text-anchor="end">20</text>
<text class="t" x="495" y="138.9" text-anchor="end">40</text>
<text class="t" x="495" y="71.6" text-anchor="end">60</text>
<text class="l" x="647.5" y="321.8" text-anchor="middle">SW Band projection weight</text>
<text class="l" transform="translate(456.5,157.5) rotate(-90)" text-anchor="middle">Channel #</text>
<text class="ti" x="648.0" y="42.6" text-anchor="middle">SW Band Projection Histogram: All Channels</text>
<clipPath id="c2"><rect x="504.0" y="364.0" width="289.0" height="213.0"/></clipPath>
<g fill="none" stroke-width="1.1" stroke-linejoin="miter" clip-path="url(#c2)">
<polyline stroke="#fffc00" points="504.5,569.8 518.9,556.3 533.3,534.4 547.7,507.2 562.1,457.3 576.5,475.8 590.9,478.5 605.3,503.2 619.7,497.2 634.1,436.0 648.5,384.1 662.9,378.3 677.3,414.9 691.7,527.5 706.1,530.6 720.5,566.7 734.9,570.7 749.3,573.4 763.7,573.6 778.1,575.4 792.5,571.0"/>
<polyline stroke="#d80000" points="504.5,572.0 518.9,556.1 533.3,528.8 547.7,508.8 562.1,461.1 576.5,477.8 590.9,491.8 605.3,432.0 619.7,447.5 634.1,489.7 648.5,500.8 662.9,455.3 677.3,383.6 691.7,447.1 706.1,518.4 720.5,566.3 734.9,569.4 749.3,571.0 763.7,574.4 778.1,573.2 792.5,573.6"/>
<polyline stroke="#dc0700" points="504.5,571.4 518.9,557.8 533.3,539.2 547.7,515.3 562.1,473.9 576.5,445.4 590.9,477.2 605.3,443.4 619.7,431.6 634.1,482.7 648.5,504.6 662.9,446.5 677.3,385.7 691.7,425.9 706.1,514.0 720.5,563.3 734.9,571.7 749.3,571.8 763.7,574.5 778.1,575.4 792.5,573.5"/>
<polyline stroke="#df1000" points="504.5,569.8 518.9,557.0 533.3,545.8 547.7,516.6 562.1,478.3 576.5,439.5 590.9,491.7 605.3,436.5 619.7,449.2 634.1,483.3 648.5,507.2 662.9,476.9 677.3,386.4 691.7,396.6 706.1,480.4 720.5,558.0 734.9,574.2 749.3,572.6 763.7,572.7 778.1,573.8 792.5,574.6"/>
<polyline stroke="#e31800" points="504.5,572.5 518.9,558.8 533.3,544.4 547.7,507.7 562.1,465.6 576.5,437.6 590.9,475.8 605.3,436.3 619.7,445.2 634.1,484.1 648.5,516.9 662.9,445.9 677.3,383.6 691.7,426.8 706.1,506.3 720.5,565.0 734.9,572.8 749.3,573.0 763.7,573.4 778.1,575.4 792.5,572.6"/>
<polyline stroke="#e72100" points="504.5,573.1 518.9,554.8 533.3,538.6 547.7,506.2 562.1,478.0 576.5,445.3 590.9,487.5 605.3,449.1 619.7,454.2 634.1,491.9 648.5,515.5 662.9,478.3 677.3,407.8 691.7,395.7 706.1,453.3 720.5,544.6 734.9,569.4 749.3,572.6 763.7,573.8 778.1,574.5 792.5,572.2"/>
<polyline stroke="#ea2a00" points="504.5,571.5 518.9,566.6 533.3,536.5 547.7,522.6 562.1,473.6 576.5,447.7 590.9,488.7 605.3,456.1 619.7,465.5 634.1,487.2 648.5,515.8 662.9,492.4 677.3,448.1 691.7,396.3 706.1,456.9 720.5,510.6 734.9,560.9 749.3,572.6 763.7,575.4 778.1,575.1 792.5,573.7"/>
<polyline stroke="#ec3500" points="504.5,573.5 518.9,568.5 533.3,543.1 547.7,523.5 562.1,482.0 576.5,458.8 590.9,469.7 605.3,448.9 619.7,448.1 634.1,483.3 648.5,515.0 662.9,478.2 677.3,437.7 691.7,400.8 706.1,443.2 720.5,521.0 734.9,564.9 749.3,569.0 763.7,572.4 778.1,575.4 792.5,572.5"/>
<polyline stroke="#ef4100" points="504.5,573.8 518.9,566.3 533.3,552.5 547.7,511.7 562.1,489.2 576.5,473.9 590.9,472.7 605.3,455.5 619.7,444.6 634.1,449.7 648.5,520.6 662.9,485.9 677.3,444.5 691.7,390.7 706.1,443.8 720.5,526.3 734.9,563.1 749.3,572.7 763.7,575.4 778.1,573.4 792.5,573.7"/>
<polyline stroke="#f14d00" points="504.5,570.6 518.9,563.7 533.3,545.5 547.7,526.7 562.1,477.1 576.5,473.5 590.9,449.0 605.3,462.9 619.7,453.9 634.1,484.7 648.5,515.6 662.9,491.4 677.3,433.4 691.7,396.2 706.1,455.8 720.5,530.9 734.9,562.7 749.3,570.4 763.7,572.8 778.1,575.0 792.5,573.6"/>
<polyline stroke="#b70000" points="504.5,573.9 518.9,571.7 533.3,552.6 547.7,555.3 562.1,534.1 576.5,514.0 590.9,473.5 605.3,430.2 619.7,438.7 634.1,429.2 648.5,488.0 662.9,478.6 677.3,444.9 691.7,389.4 706.1,449.8 720.5,526.6 734.9,560.9 749.3,572.0 763.7,574.0 778.1,573.4 792.5,573.5"/>
<polyline stroke="#f56500" points="504.5,573.0 518.9,564.4 533.3,543.4 547.7,533.3 562.1,486.1 576.5,470.2 590.9,469.6 605.3,457.7 619.7,458.4 634.1,473.8 648.5,524.0 662.9,500.1 677.3,498.5 691.7,469.5 706.1,425.1 720.5,458.5 734.9,528.5 749.3,560.1 763.7,573.0 778.1,574.6 792.5,573.6"/>
<polyline stroke="#f87200" points="504.5,572.5 518.9,567.3 533.3,538.9 547.7,527.0 562.1,478.1 576.5,453.8 590.9,470.6 605.3,449.0 619.7,450.6 634.1,485.2 648.5,525.6 662.9,492.0 677.3,465.9 691.7,390.2 706.1,451.0 720.5,522.5 734.9,558.6 749.3,567.7 763.7,573.6 778.1,572.4 792.5,572.6"/>
<polyline stroke="#fa7e00" points="504.5,573.3 518.9,567.0 533.3,541.3 547.7,531.5 562.1,483.1 576.5,461.4 590.9,463.2 605.3,453.3 619.7,466.3 634.1,462.9 648.5,518.3 662.9,487.9 677.3,476.2 691.7,383.9 706.1,450.2 720.5,527.8 734.9,558.2 749.3,567.9 763.7,573.6 778.1,572.6 792.5,574.7"/>
<polyline stroke="#fc8b00" points="504.5,572.9 518.9,545.9 533.3,521.0 547.7,495.9 562.1,481.4 576.5,489.1 590.9,443.6 605.3,441.3 619.7,456.5 634.1,482.6 648.5,512.9 662.9,438.6 677.3,399.7 691.7,445.0 706.1,523.9 720.5,566.8 734.9,570.8 749.3,574.0 763.7,571.6 778.1,573.9 792.5,574.5"/>
<polyline stroke="#ff9900" points="504.5,573.2 518.9,564.2 533.3,547.4 547.7,536.6 562.1,477.0 576.5,454.2 590.9,461.4 605.3,450.3 619.7,458.8 634.1,488.6 648.5,517.7 662.9,498.2 677.3,446.2 691.7,383.6 706.1,445.0 720.5,527.5 734.9,561.8 749.3,572.6 763.7,575.4 778.1,573.9 792.5,575.3"/>
<polyline stroke="#ffa500" points="504.5,571.7 518.9,570.4 533.3,546.2 547.7,534.8 562.1,472.8 576.5,465.9 590.9,470.1 605.3,455.9 619.7,463.2 634.1,489.0 648.5,516.1 662.9,498.2 677.3,491.9 691.7,461.7 706.1,402.5 720.5,452.0 734.9,524.1 749.3,569.9 763.7,572.4 778.1,574.3 792.5,575.4"/>
<polyline stroke="#ffb200" points="504.5,572.2 518.9,560.3 533.3,504.4 547.7,441.9 562.1,433.5 576.5,478.2 590.9,474.7 605.3,507.5 619.7,515.2 634.1,512.1 648.5,514.3 662.9,488.9 677.3,463.1 691.7,457.0 706.1,507.6 720.5,511.9 734.9,502.1 749.3,529.9 763.7,542.2 778.1,566.7 792.5,570.8"/>
<polyline stroke="#ffbf00" points="504.5,572.3 518.9,558.9 533.3,492.1 547.7,441.9 562.1,439.5 576.5,483.0 590.9,493.1 605.3,514.3 619.7,516.3 634.1,516.7 648.5,514.7 662.9,484.3 677.3,442.7 691.7,453.4 706.1,504.7 720.5,517.1 734.9,521.6 749.3,536.5 763.7,555.2 778.1,564.1 792.5,570.3"/>
<polyline stroke="#79f200" points="504.5,570.7 518.9,563.5 533.3,541.7 547.7,514.0 562.1,484.5 576.5,440.8 590.9,420.1 605.3,463.8 619.7,504.0 634.1,506.1 648.5,517.5 662.9,505.0 677.3,503.8 691.7,504.5 706.1,490.7 720.5,473.8 734.9,482.6 749.3,497.5 763.7,518.2 778.1,559.0 792.5,575.4"/>
<polyline stroke="#ffd800" points="504.5,573.2 518.9,566.6 533.3,538.3 547.7,494.3 562.1,459.2 576.5,438.1 590.9,461.2 605.3,486.5 619.7,507.6 634.1,510.1 648.5,514.9 662.9,509.1 677.3,496.4 691.7,436.4 706.1,417.2 720.5,462.1 734.9,506.6 749.3,559.2 763.7,571.1 778.1,574.1 792.5,573.9"/>
<polyline stroke="#ffe500" points="504.5,571.1 518.9,560.3 533.3,536.8 547.7,481.3 562.1,454.9 576.5,431.1 590.9,457.8 605.3,481.7 619.7,515.2 634.1,506.7 648.5,511.8 662.9,512.8 677.3,487.1 691.7,418.0 706.1,451.5 720.5,493.7 734.9,542.4 749.3,564.7 763.7,571.1 778.1,573.9 792.5,573.8"/>
<polyline stroke="#fff000" points="504.5,574.3 518.9,563.9 533.3,532.4 547.7,473.3 562.1,452.3 576.5,439.1 590.9,462.0 605.3,487.5 619.7,502.3 634.1,507.7 648.5,510.4 662.9,508.0 677.3,486.6 691.7,448.2 706.1,443.7 720.5,473.9 734.9,479.1 749.3,526.7 763.7,557.9 778.1,570.9 792.5,573.6"/>
<polyline stroke="#fffb00" points="504.5,570.8 518.9,564.9 533.3,540.7 547.7,493.6 562.1,456.1 576.5,434.2 590.9,459.3 605.3,486.6 619.7,505.3 634.1,504.3 648.5,510.0 662.9,517.5 677.3,480.4 691.7,412.7 706.1,446.6 720.5,494.4 734.9,529.1 749.3,561.5 763.7,574.4 778.1,573.3 792.5,573.8"/>
<polyline stroke="#f7ff00" points="504.5,573.5 518.9,564.0 533.3,546.9 547.7,492.3 562.1,477.7 576.5,432.8 590.9,462.5 605.3,489.4 619.7,516.4 634.1,521.9 648.5,506.1 662.9,524.3 677.3,516.1 691.7,494.5 706.1,483.5 720.5,467.0 734.9,479.5 749.3,481.4 763.7,518.7 778.1,552.4 792.5,572.0"/>
<polyline stroke="#ecff00" points="504.5,570.1 518.9,561.8 533.3,544.8 547.7,494.9 562.1,480.4 576.5,432.7 590.9,456.3 605.3,485.5 619.7,519.9 634.1,518.7 648.5,519.6 662.9,525.8 677.3,526.6 691.7,508.9 706.1,482.6 720.5,465.2 734.9,471.2 749.3,482.2 763.7,517.5 778.1,552.6 792.5,572.0"/>
<polyline stroke="#e1ff00" points="504.5,572.5 518.9,563.8 533.3,533.2 547.7,494.3 562.1,455.8 576.5,439.5 590.9,457.4 605.3,487.5 619.7,508.8 634.1,505.8 648.5,506.0 662.9,522.8 677.3,481.2 691.7,411.5 706.1,439.3 720.5,491.7 734.9,539.5 749.3,566.6 763.7,567.8 778.1,573.3 792.5,572.1"/>
<polyline stroke="#d6ff00" points="504.5,571.3 518.9,560.5 533.3,528.1 547.7,492.6 562.1,453.6 576.5,429.9 590.9,453.1 605.3,494.3 619.7,506.5 634.1,505.7 648.5,503.4 662.9,526.2 677.3,494.2 691.7,448.7 706.1,453.3 720.5,455.3 734.9,471.4 749.3,522.8 763.7,563.6 778.1,574.7 792.5,571.7"/>
<polyline stroke="#cbff00" points="504.5,569.8 518.9,561.1 533.3,529.9 547.7,486.5 562.1,459.7 576.5,423.8 590.9,464.0 605.3,493.0 619.7,502.2 634.1,506.9 648.5,501.0 662.9,517.0 677.3,478.3 691.7,418.2 706.1,465.7 720.5,505.8 734.9,537.8 749.3,568.1 763.7,569.9 778.1,571.9 792.5,573.7"/>
<polyline stroke="#a9fc00" points="504.5,569.1 518.9,557.1 533.3,531.3 547.7,489.8 562.1,452.4 576.5,438.1 590.9,459.2 605.3,490.8 619.7,504.9 634.1,505.8 648.5,507.5 662.9,512.6 677.3,472.3 691.7,398.7 706.1,465.3 720.5,499.0 734.9,542.0 749.3,567.3 763.7,571.0 778.1,575.4 792.5,571.3"/>
<polyline stroke="#87fa00" points="504.5,571.9 518.9,548.5 533.3,512.0 547.7,476.5 562.1,440.0 576.5,457.4 590.9,476.0 605.3,510.3 619.7,523.1 634.1,512.0 648.5,507.3 662.9,505.4 677.3,463.3 691.7,441.4 706.1,488.5 720.5,502.8 734.9,522.4 749.3,550.7 763.7,558.7 778.1,570.0 792.5,573.4"/>
<polyline stroke="#65f800" points="504.5,569.6 518.9,540.6 533.3,495.2 547.7,429.8 562.1,437.0 576.5,474.1 590.9,501.0 605.3,509.4 619.7,523.3 634.1,523.0 648.5,515.6 662.9,486.7 677.3,450.9 691.7,443.2 706.1,487.1 720.5,499.8 734.9,519.4 749.3,549.9 763.7,558.4 778.1,569.8 792.5,573.0"/>
<polyline stroke="#45f600" points="504.5,571.1 518.9,559.8 533.3,527.1 547.7,491.8 562.1,459.9 576.5,444.1 590.9,467.6 605.3,494.0 619.7,510.6 634.1,515.5 648.5,500.6 662.9,503.6 677.3,501.2 691.7,461.5 706.1,420.7 720.5,472.7 734.9,500.7 749.3,554.4 763.7,571.8 778.1,574.6 792.5,572.1"/>
<polyline stroke="#24f400" points="504.5,573.3 518.9,555.5 533.3,526.4 547.7,479.8 562.1,466.2 576.5,431.6 590.9,473.0 605.3,496.9 619.7,506.2 634.1,503.9 648.5,510.9 662.9,501.1 677.3,493.6 691.7,447.3 706.1,407.3 720.5,472.2 734.9,496.1 749.3,554.2 763.7,572.2 778.1,572.2 792.5,570.3"/>
<polyline stroke="#04f200" points="504.5,570.6 518.9,555.8 533.3,535.8 547.7,489.8 562.1,451.7 576.5,424.7 590.9,479.9 605.3,498.0 619.7,515.2 634.1,507.7 648.5,501.1 662.9,509.7 677.3,490.6 691.7,435.7 706.1,458.2 720.5,479.3 734.9,506.5 749.3,557.3 763.7,569.7 778.1,575.0 792.5,571.8"/>
<polyline stroke="#00ee42" points="504.5,570.3 518.9,547.6 533.3,510.6 547.7,466.6 562.1,419.4 576.5,458.7 590.9,493.8 605.3,505.3 619.7,519.1 634.1,523.9 648.5,514.6 662.9,503.3 677.3,459.9 691.7,441.9 706.1,467.3 720.5,476.9 734.9,504.3 749.3,546.6 763.7,561.9 778.1,572.4 792.5,571.3"/>
<polyline stroke="#00e987" points="504.5,572.0 518.9,545.0 533.3,506.9 547.7,457.0 562.1,449.1 576.5,472.8 590.9,487.6 605.3,519.0 619.7,532.5 634.1,517.6 648.5,510.5 662.9,496.2 677.3,467.4 691.7,435.2 706.1,431.1 720.5,502.3 734.9,520.1 749.3,555.3 763.7,573.8 778.1,572.9 792.5,573.0"/>
<polyline stroke="#00e5c9" points="504.5,571.7 518.9,567.6 533.3,541.3 547.7,504.7 562.1,477.4 576.5,443.7 590.9,455.3 605.3,466.4 619.7,514.4 634.1,512.3 648.5,516.1 662.9,528.3 677.3,525.3 691.7,523.4 706.1,468.1 720.5,460.9 734.9,467.3 749.3,472.2 763.7,498.0 778.1,542.0 792.5,571.8"/>
<polyline stroke="#00e9e1" points="504.5,568.7 518.9,541.5 533.3,500.9 547.7,429.7 562.1,466.0 576.5,447.9 590.9,500.3 605.3,512.2 619.7,521.2 634.1,522.5 648.5,513.2 662.9,515.3 677.3,453.6 691.7,451.3 706.1,488.5 720.5,497.2 734.9,511.5 749.3,545.5 763.7,548.9 778.1,566.7 792.5,572.2"/>
<polyline stroke="#00e0ec" points="504.5,568.2 518.9,539.6 533.3,503.3 547.7,433.0 562.1,471.7 576.5,464.6 590.9,506.3 605.3,505.5 619.7,523.5 634.1,526.6 648.5,521.0 662.9,518.6 677.3,452.3 691.7,447.7 706.1,484.7 720.5,503.9 734.9,516.8 749.3,543.6 763.7,557.6 778.1,569.7 792.5,571.1"/>
<polyline stroke="#00cff0" points="504.5,567.1 518.9,540.2 533.3,495.9 547.7,469.1 562.1,441.6 576.5,473.9 590.9,497.7 605.3,511.5 619.7,532.5 634.1,533.9 648.5,521.6 662.9,518.9 677.3,482.2 691.7,448.5 706.1,423.7 720.5,385.1 734.9,508.9 749.3,545.1 763.7,564.5 778.1,571.5 792.5,570.4"/>
<polyline stroke="#00bdf4" points="504.5,566.9 518.9,546.9 533.3,499.5 547.7,461.5 562.1,437.5 576.5,467.9 590.9,509.4 605.3,512.8 619.7,524.8 634.1,529.9 648.5,521.9 662.9,501.5 677.3,476.0 691.7,449.1 706.1,447.5 720.5,475.6 734.9,495.7 749.3,547.6 763.7,567.5 778.1,573.7 792.5,571.6"/>
<polyline stroke="#00abf7" points="504.5,570.9 518.9,557.0 533.3,506.0 547.7,438.8 562.1,457.4 576.5,478.4 590.9,498.2 605.3,498.7 619.7,512.2 634.1,520.5 648.5,518.7 662.9,502.3 677.3,484.4 691.7,446.8 706.1,428.0 720.5,449.9 734.9,484.5 749.3,485.2 763.7,551.5 778.1,563.2 792.5,574.3"/>
<polyline stroke="#0098fb" points="504.5,571.8 518.9,544.1 533.3,498.3 547.7,454.7 562.1,456.8 576.5,480.1 590.9,490.1 605.3,499.2 619.7,507.6 634.1,519.4 648.5,514.0 662.9,502.8 677.3,470.8 691.7,441.9 706.1,422.6 720.5,412.5 734.9,501.9 749.3,551.3 763.7,562.9 778.1,571.0 792.5,573.7"/>
<polyline stroke="#0084ff" points="504.5,572.6 518.9,547.5 533.3,502.6 547.7,459.9 562.1,407.1 576.5,464.5 590.9,491.1 605.3,505.1 619.7,512.5 634.1,521.9 648.5,511.5 662.9,497.1 677.3,472.5 691.7,438.1 706.1,458.5 720.5,480.9 734.9,500.1 749.3,541.1 763.7,566.3 778.1,571.3 792.5,571.8"/>
<polyline stroke="#0072fd" points="504.5,571.2 518.9,552.0 533.3,501.7 547.7,448.4 562.1,471.2 576.5,470.5 590.9,494.9 605.3,508.7 619.7,512.9 634.1,519.8 648.5,516.0 662.9,502.9 677.3,498.8 691.7,456.0 706.1,448.9 720.5,459.9 734.9,471.3 749.3,487.8 763.7,548.1 778.1,560.1 792.5,573.1"/>
<polyline stroke="#0060fb" points="504.5,570.5 518.9,548.7 533.3,493.3 547.7,435.4 562.1,436.6 576.5,481.0 590.9,493.4 605.3,511.5 619.7,522.3 634.1,519.8 648.5,518.2 662.9,495.7 677.3,465.1 691.7,419.7 706.1,437.6 720.5,487.1 734.9,506.2 749.3,546.9 763.7,568.9 778.1,570.2 792.5,571.4"/>
<polyline stroke="#004ef9" points="504.5,569.2 518.9,540.3 533.3,502.6 547.7,446.8 562.1,435.1 576.5,472.0 590.9,486.7 605.3,510.1 619.7,517.5 634.1,519.6 648.5,517.2 662.9,511.0 677.3,486.8 691.7,438.3 706.1,429.9 720.5,464.8 734.9,500.9 749.3,549.0 763.7,569.2 778.1,574.5 792.5,574.5"/>
<polyline stroke="#003cf7" points="504.5,570.9 518.9,546.2 533.3,499.0 547.7,453.5 562.1,433.1 576.5,484.5 590.9,496.1 605.3,506.1 619.7,517.1 634.1,532.6 648.5,518.9 662.9,505.4 677.3,493.5 691.7,456.6 706.1,429.7 720.5,396.9 734.9,452.1 749.3,546.3 763.7,566.7 778.1,573.3 792.5,572.7"/>
<polyline stroke="#002bf5" points="504.5,570.2 518.9,539.3 533.3,488.9 547.7,449.1 562.1,439.1 576.5,470.6 590.9,492.4 605.3,507.3 619.7,528.7 634.1,524.9 648.5,526.2 662.9,510.3 677.3,496.9 691.7,453.4 706.1,433.7 720.5,399.5 734.9,472.4 749.3,543.8 763.7,568.2 778.1,575.3 792.5,574.5"/>
<polyline stroke="#001af4" points="504.5,574.3 518.9,565.0 533.3,537.2 547.7,453.5 562.1,438.1 576.5,475.3 590.9,495.6 605.3,511.3 619.7,523.3 634.1,524.3 648.5,525.1 662.9,506.0 677.3,486.8 691.7,463.7 706.1,448.0 720.5,438.4 734.9,467.3 749.3,506.0 763.7,542.9 778.1,555.6 792.5,570.7"/>
<polyline stroke="#0009f2" points="504.5,571.5 518.9,532.3 533.3,493.4 547.7,451.3 562.1,445.4 576.5,505.1 590.9,493.5 605.3,519.5 619.7,529.6 634.1,536.4 648.5,530.7 662.9,513.3 677.3,495.4 691.7,461.1 706.1,427.0 720.5,375.6 734.9,493.0 749.3,551.0 763.7,568.3 778.1,572.2 792.5,573.1"/>
<polyline stroke="#0400eb" points="504.5,571.3 518.9,562.6 533.3,530.6 547.7,451.0 562.1,443.6 576.5,471.9 590.9,494.9 605.3,505.1 619.7,515.8 634.1,540.4 648.5,526.3 662.9,524.0 677.3,502.2 691.7,452.5 706.1,457.4 720.5,444.4 734.9,469.5 749.3,492.4 763.7,550.7 778.1,563.2 792.5,572.8"/>
<polyline stroke="#1200e5" points="504.5,571.6 518.9,562.0 533.3,533.1 547.7,453.8 562.1,429.6 576.5,511.9 590.9,509.9 605.3,508.2 619.7,525.7 634.1,534.8 648.5,530.8 662.9,529.5 677.3,522.5 691.7,499.4 706.1,452.9 720.5,415.3 734.9,418.0 749.3,487.4 763.7,550.7 778.1,566.9 792.5,573.0"/>
<polyline stroke="#1f00df" points="504.5,573.4 518.9,537.8 533.3,493.9 547.7,434.3 562.1,436.4 576.5,481.0 590.9,508.6 605.3,512.4 619.7,515.2 634.1,533.3 648.5,522.7 662.9,497.2 677.3,468.2 691.7,442.6 706.1,458.6 720.5,483.1 734.9,500.2 749.3,543.9 763.7,571.9 778.1,573.3 792.5,571.4"/>
<polyline stroke="#2b00d8" points="504.5,575.2 518.9,564.7 533.3,507.4 547.7,440.2 562.1,454.0 576.5,490.2 590.9,498.5 605.3,513.6 619.7,521.3 634.1,526.0 648.5,527.0 662.9,499.9 677.3,489.7 691.7,428.2 706.1,435.4 720.5,440.5 734.9,488.4 749.3,548.3 763.7,570.0 778.1,572.4 792.5,575.4"/>
<polyline stroke="#3600d2" points="504.5,569.6 518.9,562.8 533.3,493.2 547.7,431.3 562.1,455.1 576.5,491.3 590.9,490.7 605.3,510.2 619.7,527.1 634.1,523.5 648.5,527.5 662.9,507.6 677.3,483.0 691.7,441.7 706.1,423.2 720.5,443.8 734.9,473.8 749.3,546.8 763.7,565.9 778.1,573.3 792.5,574.1"/>
<polyline stroke="#4100cc" points="504.5,571.8 518.9,538.9 533.3,495.5 547.7,431.1 562.1,471.1 576.5,497.1 590.9,500.1 605.3,517.1 619.7,523.8 634.1,527.5 648.5,530.4 662.9,499.5 677.3,481.7 691.7,439.7 706.1,419.1 720.5,442.4 734.9,467.0 749.3,544.4 763.7,565.4 778.1,573.4 792.5,575.4"/>
<polyline stroke="#4b00c6" points="504.5,569.6 518.9,534.4 533.3,493.3 547.7,435.8 562.1,459.4 576.5,500.1 590.9,499.2 605.3,518.9 619.7,529.8 634.1,527.9 648.5,527.3 662.9,498.6 677.3,482.6 691.7,437.0 706.1,405.7 720.5,441.3 734.9,488.4 749.3,542.5 763.7,565.5 778.1,575.2 792.5,571.2"/>
<polyline stroke="#5500c1" points="504.5,570.1 518.9,536.0 533.3,495.1 547.7,441.5 562.1,433.8 576.5,475.8 590.9,495.4 605.3,516.5 619.7,533.1 634.1,530.3 648.5,524.6 662.9,497.8 677.3,488.0 691.7,424.2 706.1,426.5 720.5,482.5 734.9,505.1 749.3,543.8 763.7,571.9 778.1,574.5 792.5,573.9"/>
<polyline stroke="#5e00bc" points="504.5,571.1 518.9,563.1 533.3,515.6 547.7,442.3 562.1,429.3 576.5,484.0 590.9,498.9 605.3,521.0 619.7,523.9 634.1,527.3 648.5,535.9 662.9,521.0 677.3,510.2 691.7,498.5 706.1,447.9 720.5,423.5 734.9,440.3 749.3,494.4 763.7,545.7 778.1,565.6 792.5,570.8"/>
<polyline stroke="#6600b7" points="504.5,570.5 518.9,563.5 533.3,537.8 547.7,469.5 562.1,442.6 576.5,476.0 590.9,504.1 605.3,513.3 619.7,528.6 634.1,535.8 648.5,542.6 662.9,534.5 677.3,522.1 691.7,495.5 706.1,446.2 720.5,416.0 734.9,443.3 749.3,489.8 763.7,538.5 778.1,560.7 792.5,574.1"/>
<polyline stroke="#6e00b2" points="504.5,571.2 518.9,565.8 533.3,545.3 547.7,464.4 562.1,442.6 576.5,481.8 590.9,500.4 605.3,518.3 619.7,524.6 634.1,533.9 648.5,538.9 662.9,526.6 677.3,527.4 691.7,496.3 706.1,476.3 720.5,422.8 734.9,453.8 749.3,474.8 763.7,541.4 778.1,556.9 792.5,571.4"/>
<polyline stroke="#000" stroke-width="2.2" points="504.5,573.9 518.9,534.1 533.3,481.1 547.7,446.6 562.1,475.8 576.5,517.1 590.9,518.2 605.3,523.5 619.7,526.1 634.1,536.8 648.5,542.0 662.9,536.8 677.3,512.9 691.7,512.9 706.1,470.5 720.5,441.4 734.9,422.8 749.3,449.3 763.7,544.7 778.1,560.6 792.5,572.3"/>
</g>
<g stroke="#262626" stroke-width="1" fill="none">
<path d="M504.5 364.5V576.5H792.5"/>
<path d="M504.5 576.5v-3"/>
<path d="M648.5 576.5v-3"/>
<path d="M792.5 576.5v-3"/>
<path d="M504.5 576.5h3"/>
<path d="M504.5 523.5h3"/>
<path d="M504.5 470.5h3"/>
<path d="M504.5 417.5h3"/>
<path d="M504.5 364.5h3"/>
</g>
<text class="t" x="503.5" y="604" text-anchor="middle">0</text>
<text class="t" x="647.5" y="604" text-anchor="middle">0.5</text>
<text class="t" x="791.5" y="604" text-anchor="middle">1</text>
<text class="t" x="495" y="583.8" text-anchor="end">0</text>
<text class="t" x="495" y="530.8" text-anchor="end">100</text>
<text class="t" x="495" y="477.8" text-anchor="end">200</text>
<text class="t" x="495" y="424.8" text-anchor="end">300</text>
<text class="t" x="495" y="371.8" text-anchor="end">400</text>
<text class="l" x="647.5" y="633.8" text-anchor="middle">SW Band projection weight</text>
<text class="l" transform="translate(442.3,469.3) rotate(-90)" text-anchor="middle">hist</text>
<text class="ti" x="648.0" y="354.6" text-anchor="middle">SW Band Projection Histogram: All Channels</text>
</svg></body></html>
